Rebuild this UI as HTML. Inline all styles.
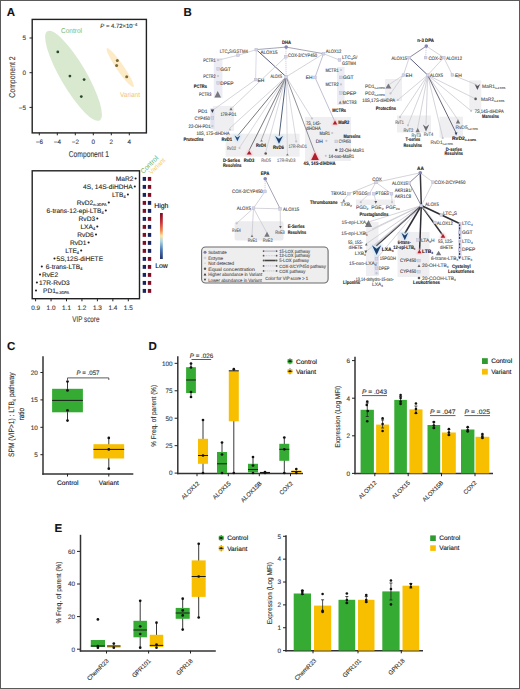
<!DOCTYPE html><html><head><meta charset="utf-8"><style>html,body{margin:0;padding:0;background:#fff;overflow:hidden}svg{display:block}text{font-family:"Liberation Sans",sans-serif;text-rendering:geometricPrecision}.b text{stroke:#444;stroke-width:0.1px}.o text{stroke:#333;stroke-width:0.12px}</style></head><body><svg width="520" height="689" viewBox="0 0 520 689"><defs><filter id="gl" x="-50%" y="-50%" width="200%" height="200%"><feGaussianBlur stdDeviation="0.9"/></filter></defs><rect x="0" y="0" width="520" height="689" fill="#fff"/><g class="o">
<text x="6.80" y="16.20" font-size="11.5" font-weight="bold" fill="#111">A</text>
<ellipse cx="73.5" cy="75.8" rx="51.7" ry="12.8" transform="rotate(59.6 73.5 75.8)" fill="#d8e9d0"/>
<ellipse cx="120.2" cy="67.6" rx="23.5" ry="3.6" transform="rotate(55.6 120.2 67.6)" fill="#fcebc6"/>
<circle cx="57.80" cy="51.90" r="1.4" fill="#2a4a2a"/>
<circle cx="69.90" cy="76.10" r="1.4" fill="#2a4a2a"/>
<circle cx="84.10" cy="79.60" r="1.4" fill="#2a4a2a"/>
<circle cx="81.30" cy="96.60" r="1.4" fill="#2a4a2a"/>
<circle cx="117.30" cy="60.60" r="1.5" fill="#7d6a35"/>
<circle cx="116.60" cy="65.40" r="1.5" fill="#7d6a35"/>
<circle cx="126.70" cy="76.80" r="1.5" fill="#7d6a35"/>
<rect x="32.2" y="19.4" width="114.2" height="113.5" fill="none" stroke="#222" stroke-width="1.4"/>
<line x1="39.30" y1="132.70" x2="39.30" y2="135.30" stroke="#222" stroke-width="1"/>
<text x="39.30" y="144.30" font-size="6.3" text-anchor="middle" fill="#444">−6</text>
<line x1="57.30" y1="132.70" x2="57.30" y2="135.30" stroke="#222" stroke-width="1"/>
<text x="57.30" y="144.30" font-size="6.3" text-anchor="middle" fill="#444">−4</text>
<line x1="75.30" y1="132.70" x2="75.30" y2="135.30" stroke="#222" stroke-width="1"/>
<text x="75.30" y="144.30" font-size="6.3" text-anchor="middle" fill="#444">−2</text>
<line x1="93.30" y1="132.70" x2="93.30" y2="135.30" stroke="#222" stroke-width="1"/>
<text x="93.30" y="144.30" font-size="6.3" text-anchor="middle" fill="#444">0</text>
<line x1="111.30" y1="132.70" x2="111.30" y2="135.30" stroke="#222" stroke-width="1"/>
<text x="111.30" y="144.30" font-size="6.3" text-anchor="middle" fill="#444">2</text>
<line x1="129.30" y1="132.70" x2="129.30" y2="135.30" stroke="#222" stroke-width="1"/>
<text x="129.30" y="144.30" font-size="6.3" text-anchor="middle" fill="#444">4</text>
<line x1="29.50" y1="38.00" x2="32.50" y2="38.00" stroke="#222" stroke-width="1"/>
<text x="26.00" y="40.30" font-size="6.3" text-anchor="end" fill="#444">5</text>
<line x1="29.50" y1="72.70" x2="32.50" y2="72.70" stroke="#222" stroke-width="1"/>
<text x="26.00" y="75.00" font-size="6.3" text-anchor="end" fill="#444">0</text>
<line x1="29.50" y1="107.40" x2="32.50" y2="107.40" stroke="#222" stroke-width="1"/>
<text x="26.00" y="109.70" font-size="6.3" text-anchor="end" fill="#444">−5</text>
<text x="88.90" y="156.80" font-size="8.5" text-anchor="middle" fill="#444" textLength="40.40" lengthAdjust="spacingAndGlyphs">Component 1</text>
<text x="15.10" y="77.00" font-size="8.5" text-anchor="middle" fill="#444" textLength="41.30" lengthAdjust="spacingAndGlyphs" transform="rotate(-90 15.10 77.00)">Component 2</text>
<text x="61.00" y="32.50" font-size="7" fill="#79b86c" style="stroke:none" textLength="21.00" lengthAdjust="spacingAndGlyphs">Control</text>
<text x="120.00" y="96.50" font-size="7" fill="#f3c46e" style="stroke:none" textLength="20.00" lengthAdjust="spacingAndGlyphs">Variant</text>
<text x="100.3" y="28.1" font-size="6" fill="#333" textLength="37" lengthAdjust="spacingAndGlyphs"><tspan font-style="italic">P</tspan> = 4.72×10<tspan font-size="4.2" dy="-2.6">−4</tspan></text>
<rect x="32.2" y="170.8" width="107.3" height="127.9" fill="none" stroke="#222" stroke-width="1.4"/>
<line x1="35.60" y1="298.50" x2="35.60" y2="301.30" stroke="#222" stroke-width="1"/>
<text x="35.60" y="310.30" font-size="6.4" text-anchor="middle" fill="#444">0.9</text>
<line x1="51.05" y1="298.50" x2="51.05" y2="301.30" stroke="#222" stroke-width="1"/>
<text x="51.05" y="310.30" font-size="6.4" text-anchor="middle" fill="#444">1.0</text>
<line x1="66.50" y1="298.50" x2="66.50" y2="301.30" stroke="#222" stroke-width="1"/>
<text x="66.50" y="310.30" font-size="6.4" text-anchor="middle" fill="#444">1.1</text>
<line x1="81.95" y1="298.50" x2="81.95" y2="301.30" stroke="#222" stroke-width="1"/>
<text x="81.95" y="310.30" font-size="6.4" text-anchor="middle" fill="#444">1.2</text>
<line x1="97.40" y1="298.50" x2="97.40" y2="301.30" stroke="#222" stroke-width="1"/>
<text x="97.40" y="310.30" font-size="6.4" text-anchor="middle" fill="#444">1.3</text>
<line x1="112.85" y1="298.50" x2="112.85" y2="301.30" stroke="#222" stroke-width="1"/>
<text x="112.85" y="310.30" font-size="6.4" text-anchor="middle" fill="#444">1.4</text>
<line x1="128.30" y1="298.50" x2="128.30" y2="301.30" stroke="#222" stroke-width="1"/>
<text x="128.30" y="310.30" font-size="6.4" text-anchor="middle" fill="#444">1.5</text>
<text x="85.90" y="322.40" font-size="8.4" text-anchor="middle" fill="#444" textLength="27.10" lengthAdjust="spacingAndGlyphs">VIP score</text>
<circle cx="135.60" cy="178.50" r="1.05" fill="#222"/>
<text x="133.40" y="180.60" font-size="6.6" text-anchor="end" fill="#222">MaR2</text>
<rect x="142.70" y="176.95" width="3.35" height="3.90" fill="#18245f"/>
<rect x="147.85" y="176.95" width="3.35" height="3.90" fill="#7f0d24"/>
<circle cx="134.80" cy="186.50" r="1.05" fill="#222"/>
<text x="132.60" y="188.60" font-size="6.6" text-anchor="end" fill="#222">4S, 14S-diHDHA</text>
<rect x="142.70" y="184.95" width="3.35" height="3.90" fill="#18245f"/>
<rect x="147.85" y="184.95" width="3.35" height="3.90" fill="#7f0d24"/>
<circle cx="127.90" cy="194.50" r="1.05" fill="#222"/>
<text x="125.70" y="196.60" font-size="6.6" text-anchor="end" fill="#222">LTB<tspan font-size="3.9" dy="1.3">4</tspan></text>
<rect x="142.70" y="192.95" width="3.35" height="3.90" fill="#18245f"/>
<rect x="147.85" y="192.95" width="3.35" height="3.90" fill="#7f0d24"/>
<circle cx="108.80" cy="202.50" r="1.05" fill="#222"/>
<text x="106.60" y="204.60" font-size="6.6" text-anchor="end" fill="#222">RvD2<tspan font-size="3.9" dy="1.3">n-3DPA</tspan></text>
<rect x="142.70" y="200.95" width="3.35" height="3.90" fill="#7f0d24"/>
<rect x="147.85" y="200.95" width="3.35" height="3.90" fill="#18245f"/>
<circle cx="105.80" cy="210.50" r="1.05" fill="#222"/>
<text x="103.60" y="212.60" font-size="6.6" text-anchor="end" fill="#222">6-trans-12-epi-LTB<tspan font-size="3.9" dy="1.3">4</tspan></text>
<rect x="142.70" y="208.95" width="3.35" height="3.90" fill="#7f0d24"/>
<rect x="147.85" y="208.95" width="3.35" height="3.90" fill="#18245f"/>
<circle cx="97.30" cy="218.50" r="1.05" fill="#222"/>
<text x="95.10" y="220.60" font-size="6.6" text-anchor="end" fill="#222">RvD3</text>
<rect x="142.70" y="216.95" width="3.35" height="3.90" fill="#18245f"/>
<rect x="147.85" y="216.95" width="3.35" height="3.90" fill="#7f0d24"/>
<circle cx="97.30" cy="226.50" r="1.05" fill="#222"/>
<text x="95.10" y="228.60" font-size="6.6" text-anchor="end" fill="#222">LXA<tspan font-size="3.9" dy="1.3">4</tspan></text>
<rect x="142.70" y="224.95" width="3.35" height="3.90" fill="#7f0d24"/>
<rect x="147.85" y="224.95" width="3.35" height="3.90" fill="#18245f"/>
<circle cx="96.00" cy="234.50" r="1.05" fill="#222"/>
<text x="93.80" y="236.60" font-size="6.6" text-anchor="end" fill="#222">RvD6</text>
<rect x="142.70" y="232.95" width="3.35" height="3.90" fill="#7f0d24"/>
<rect x="147.85" y="232.95" width="3.35" height="3.90" fill="#18245f"/>
<circle cx="88.60" cy="242.50" r="1.05" fill="#222"/>
<text x="86.40" y="244.60" font-size="6.6" text-anchor="end" fill="#222">RvD1</text>
<rect x="142.70" y="240.95" width="3.35" height="3.90" fill="#7f0d24"/>
<rect x="147.85" y="240.95" width="3.35" height="3.90" fill="#18245f"/>
<circle cx="81.20" cy="250.50" r="1.05" fill="#222"/>
<text x="79.00" y="252.60" font-size="6.6" text-anchor="end" fill="#222">LTE<tspan font-size="3.9" dy="1.3">4</tspan></text>
<rect x="142.70" y="248.95" width="3.35" height="3.90" fill="#7f0d24"/>
<rect x="147.85" y="248.95" width="3.35" height="3.90" fill="#18245f"/>
<circle cx="54.50" cy="258.50" r="1.05" fill="#222"/>
<text x="56.50" y="260.60" font-size="6.6" fill="#222">5S,12S-diHETE</text>
<rect x="142.70" y="256.95" width="3.35" height="3.90" fill="#18245f"/>
<rect x="147.85" y="256.95" width="3.35" height="3.90" fill="#7f0d24"/>
<circle cx="41.80" cy="266.50" r="1.05" fill="#222"/>
<text x="45.80" y="268.60" font-size="6.6" fill="#222">6-trans-LTB<tspan font-size="3.9" dy="1.3">4</tspan></text>
<rect x="142.70" y="264.95" width="3.35" height="3.90" fill="#18245f"/>
<rect x="147.85" y="264.95" width="3.35" height="3.90" fill="#7f0d24"/>
<circle cx="40.00" cy="274.50" r="1.05" fill="#222"/>
<text x="42.00" y="276.60" font-size="6.6" fill="#222">RvE2</text>
<rect x="142.70" y="272.95" width="3.35" height="3.90" fill="#18245f"/>
<rect x="147.85" y="272.95" width="3.35" height="3.90" fill="#7f0d24"/>
<circle cx="36.90" cy="282.50" r="1.05" fill="#222"/>
<text x="38.90" y="284.60" font-size="6.6" fill="#222">17R-RvD3</text>
<rect x="142.70" y="280.95" width="3.35" height="3.90" fill="#18245f"/>
<rect x="147.85" y="280.95" width="3.35" height="3.90" fill="#7f0d24"/>
<circle cx="36.00" cy="290.50" r="1.05" fill="#222"/>
<text x="43.00" y="292.60" font-size="6.6" fill="#222">PD1<tspan font-size="3.9" dy="1.3">n-3DPA</tspan></text>
<rect x="142.70" y="288.95" width="3.35" height="3.90" fill="#18245f"/>
<rect x="147.85" y="288.95" width="3.35" height="3.90" fill="#7f0d24"/>
<text x="143.20" y="174.00" font-size="6.8" fill="#6cb25e" style="stroke:none" textLength="22.00" lengthAdjust="spacingAndGlyphs" transform="rotate(-45 143.20 174.00)">Control</text>
<text x="151.60" y="174.80" font-size="6.8" fill="#f6cd72" style="stroke:none" textLength="20.00" lengthAdjust="spacingAndGlyphs" transform="rotate(-45 151.60 174.80)">Variant</text>
<defs><linearGradient id="cb" x1="0" y1="0" x2="0" y2="1"><stop offset="0" stop-color="#7b0d25"/><stop offset="0.2" stop-color="#c8323a"/><stop offset="0.38" stop-color="#f08a4f"/><stop offset="0.5" stop-color="#fbe6a6"/><stop offset="0.62" stop-color="#a8d3e4"/><stop offset="0.8" stop-color="#4a78b4"/><stop offset="1" stop-color="#23336e"/></linearGradient></defs>
<rect x="160.00" y="213.00" width="2.80" height="46.00" fill="url(#cb)"/>
<text x="154.20" y="208.40" font-size="6.9">High</text>
<text x="155.20" y="268.00" font-size="6.9">Low</text>
</g>
<g class="b">
<text x="183.60" y="16.10" font-size="11.5" font-weight="bold" fill="#111">B</text>
<rect x="213.80" y="58.00" width="8.60" height="40.00" fill="#ececf4"/>
<rect x="337.00" y="67.00" width="7.50" height="38.00" fill="#ececf4"/>
<rect x="213.00" y="106.00" width="21.00" height="25.00" fill="#efeff1"/>
<rect x="210.30" y="108.00" width="4.20" height="21.00" fill="#e2e2f0"/>
<rect x="225.60" y="133.70" width="74.00" height="23.00" fill="#efeff1"/>
<rect x="305.00" y="117.00" width="46.00" height="44.00" fill="#efeff1"/>
<rect x="385.00" y="79.00" width="17.00" height="22.00" fill="#efeff1"/>
<rect x="397.00" y="115.50" width="34.00" height="17.00" fill="#efeff1"/>
<rect x="469.30" y="80.40" width="12.00" height="30.00" fill="#efeff1"/>
<rect x="439.50" y="116.60" width="23.50" height="21.00" fill="#efeff1"/>
<rect x="234.6" y="221.2" width="49" height="19.3" rx="2.5" fill="#ececee"/>
<rect x="356.00" y="199.50" width="39.00" height="5.50" fill="#efeff1"/>
<rect x="366.00" y="222.00" width="12.50" height="54.00" fill="#efeff1"/>
<rect x="374.30" y="255.00" width="4.60" height="20.00" fill="#e2e2f0"/>
<rect x="397.50" y="232.00" width="32.00" height="45.00" fill="#efeff1"/>
<rect x="458.00" y="222.00" width="3.80" height="37.00" fill="#e2e2f0"/>
<line x1="286.20" y1="47.10" x2="256.30" y2="49.60" stroke="#9a9aae" stroke-width="0.9"/>
<line x1="286.20" y1="47.10" x2="323.50" y2="53.70" stroke="#9a9aae" stroke-width="0.9"/>
<line x1="286.20" y1="47.10" x2="285.80" y2="56.70" stroke="#c8c8e8" stroke-width="0.9" stroke-dasharray="1.2 0.8"/>
<line x1="285.80" y1="56.70" x2="286.20" y2="76.80" stroke="#c8c8e8" stroke-width="0.9" stroke-dasharray="1.2 0.8"/>
<line x1="256.30" y1="49.60" x2="286.20" y2="76.80" stroke="#5e5e7a" stroke-width="1.0"/>
<line x1="323.50" y1="53.70" x2="286.20" y2="76.80" stroke="#c9c9d2" stroke-width="0.8"/>
<line x1="256.30" y1="49.60" x2="238.00" y2="55.30" stroke="#c9c9d2" stroke-width="0.8"/>
<line x1="238.00" y1="55.30" x2="218.00" y2="60.20" stroke="#c9c9d2" stroke-width="0.8"/>
<line x1="256.30" y1="49.60" x2="255.60" y2="79.60" stroke="#d0d0e4" stroke-width="0.8"/>
<line x1="255.60" y1="79.60" x2="212.40" y2="110.50" stroke="#c9c9d2" stroke-width="0.8"/>
<line x1="285.80" y1="56.70" x2="231.00" y2="108.80" stroke="#c9c9d2" stroke-width="0.8"/>
<line x1="286.20" y1="76.80" x2="229.50" y2="128.50" stroke="#c9c9d2" stroke-width="0.8"/>
<line x1="323.50" y1="53.70" x2="339.50" y2="60.00" stroke="#c9c9d2" stroke-width="0.8"/>
<line x1="323.50" y1="53.70" x2="315.00" y2="77.40" stroke="#b0b0c8" stroke-width="0.8"/>
<line x1="315.00" y1="77.40" x2="334.60" y2="121.00" stroke="#b0b0c8" stroke-width="0.8"/>
<line x1="286.20" y1="76.80" x2="312.00" y2="118.50" stroke="#c9c9d2" stroke-width="0.8"/>
<line x1="286.20" y1="76.80" x2="237.50" y2="136.00" stroke="#55555c" stroke-width="0.8"/>
<line x1="286.20" y1="76.80" x2="239.50" y2="147.50" stroke="#c9c9d2" stroke-width="0.7"/>
<line x1="286.20" y1="76.80" x2="248.80" y2="151.00" stroke="#55555c" stroke-width="0.8"/>
<line x1="286.20" y1="76.80" x2="261.50" y2="139.50" stroke="#8a8a96" stroke-width="0.7"/>
<line x1="286.20" y1="76.80" x2="265.60" y2="152.50" stroke="#c9c9d2" stroke-width="0.7"/>
<line x1="286.20" y1="76.80" x2="279.20" y2="136.00" stroke="#3d4f72" stroke-width="0.9"/>
<line x1="286.20" y1="76.80" x2="296.20" y2="141.00" stroke="#c9c9d2" stroke-width="0.7"/>
<line x1="286.20" y1="76.80" x2="287.40" y2="153.00" stroke="#c9c9d2" stroke-width="0.7"/>
<line x1="286.20" y1="76.80" x2="314.60" y2="152.00" stroke="#74747e" stroke-width="0.8"/>
<circle cx="286.20" cy="47.10" r="1.8" fill="#8585b5"/>
<text x="286.50" y="44.05" font-size="5.0" fill="#111" text-anchor="middle" font-weight="bold" textLength="9.00" lengthAdjust="spacingAndGlyphs">DHA</text>
<rect x="254.90" y="48.20" width="2.80" height="2.80" fill="#d4d4e6" stroke="#b4b4cc" stroke-width="0.4"/>
<text x="260.60" y="53.55" font-size="4.9" fill="#383838" textLength="17.00" lengthAdjust="spacingAndGlyphs">ALOX15</text>
<rect x="284.40" y="55.30" width="2.80" height="2.80" fill="#d4d4e6" stroke="#b4b4cc" stroke-width="0.4"/>
<text x="288.00" y="57.15" font-size="4.9" fill="#383838" textLength="29.00" lengthAdjust="spacingAndGlyphs">COX-2/CYP450</text>
<rect x="322.10" y="52.30" width="2.80" height="2.80" fill="#d4d4e6" stroke="#b4b4cc" stroke-width="0.4"/>
<text x="325.80" y="53.05" font-size="4.9" fill="#383838" textLength="15.50" lengthAdjust="spacingAndGlyphs">ALOX12</text>
<rect x="236.60" y="53.90" width="2.80" height="2.80" fill="#d4d4e6" stroke="#b4b4cc" stroke-width="0.4"/>
<text x="219.8" y="52.6" font-size="4.9" fill="#555" textLength="28" lengthAdjust="spacingAndGlyphs">LTC<tspan font-size="3.2" dy="1">4</tspan><tspan dy="-1">S/GSTM4</tspan></text>
<rect x="284.80" y="75.40" width="2.80" height="2.80" fill="#d4d4e6" stroke="#b4b4cc" stroke-width="0.4"/>
<text x="282.00" y="78.25" font-size="4.9" fill="#383838" text-anchor="end" textLength="11.60" lengthAdjust="spacingAndGlyphs">ALOX5</text>
<rect x="254.20" y="78.20" width="2.80" height="2.80" fill="#d4d4e6" stroke="#b4b4cc" stroke-width="0.4"/>
<text x="257.60" y="81.95" font-size="4.9" fill="#383838">EH</text>
<rect x="313.60" y="76.00" width="2.80" height="2.80" fill="#d4d4e6" stroke="#b4b4cc" stroke-width="0.4"/>
<text x="312.50" y="79.15" font-size="4.9" fill="#383838" text-anchor="end">EH</text>
<circle cx="218.00" cy="60.20" r="1.1" fill="#c4c4cc"/>
<text x="215.60" y="61.95" font-size="4.9" fill="#383838" text-anchor="end" textLength="12.40" lengthAdjust="spacingAndGlyphs">PCTR1</text>
<rect x="216.80" y="67.40" width="2.80" height="2.80" fill="#d4d4e6" stroke="#b4b4cc" stroke-width="0.4"/>
<text x="220.20" y="70.55" font-size="4.9" fill="#383838">GGT</text>
<circle cx="218.00" cy="76.00" r="1.1" fill="#c4c4cc"/>
<text x="215.60" y="77.75" font-size="4.9" fill="#383838" text-anchor="end" textLength="12.40" lengthAdjust="spacingAndGlyphs">PCTR2</text>
<rect x="216.80" y="81.60" width="2.80" height="2.80" fill="#d4d4e6" stroke="#b4b4cc" stroke-width="0.4"/>
<text x="220.20" y="84.75" font-size="4.9" fill="#383838">DPEP</text>
<polygon points="214.40,97.40 221.00,97.40 217.70,91.00" fill="#77777f"/>
<text x="211.40" y="96.05" font-size="4.9" fill="#383838" text-anchor="end" textLength="12.40" lengthAdjust="spacingAndGlyphs">PCTR3</text>
<text x="193.80" y="88.25" font-size="5.0" fill="#111" font-weight="bold" textLength="13.20" lengthAdjust="spacingAndGlyphs">PCTRs</text>
<rect x="338.10" y="58.60" width="2.80" height="2.80" fill="#d4d4e6" stroke="#b4b4cc" stroke-width="0.4"/>
<text x="342" y="59.4" font-size="4.9" fill="#555">LTC<tspan font-size="3.2" dy="1">4</tspan><tspan dy="-1">S/</tspan></text>
<text x="342.00" y="64.65" font-size="4.9" fill="#383838" textLength="14.00" lengthAdjust="spacingAndGlyphs">GSTM4</text>
<circle cx="341.00" cy="70.00" r="1.1" fill="#c4c4cc"/>
<text x="338.60" y="71.75" font-size="4.9" fill="#383838" text-anchor="end" textLength="13.20" lengthAdjust="spacingAndGlyphs">MCTR1</text>
<rect x="339.60" y="76.00" width="2.80" height="2.80" fill="#d4d4e6" stroke="#b4b4cc" stroke-width="0.4"/>
<text x="343.00" y="79.15" font-size="4.9" fill="#383838">GGT</text>
<circle cx="341.00" cy="84.40" r="1.1" fill="#c4c4cc"/>
<text x="338.60" y="86.15" font-size="4.9" fill="#383838" text-anchor="end" textLength="13.20" lengthAdjust="spacingAndGlyphs">MCTR2</text>
<rect x="339.60" y="91.50" width="2.80" height="2.80" fill="#d4d4e6" stroke="#b4b4cc" stroke-width="0.4"/>
<text x="343.00" y="94.65" font-size="4.9" fill="#383838">DPEP</text>
<polygon points="338.60,103.70 341.80,103.70 340.20,100.70" fill="#888"/>
<text x="342.60" y="103.95" font-size="4.9" fill="#383838" textLength="14.00" lengthAdjust="spacingAndGlyphs">MCTR3</text>
<text x="332.30" y="111.95" font-size="5.0" fill="#111" font-weight="bold" textLength="13.70" lengthAdjust="spacingAndGlyphs">MCTRs</text>
<polygon points="210.70,109.50 214.10,109.50 212.40,112.90" fill="#3a3a44"/>
<text x="207.50" y="112.95" font-size="4.9" fill="#383838" text-anchor="end">PD1</text>
<polygon points="229.40,110.30 232.60,110.30 231.00,107.30" fill="#777"/>
<text x="220.40" y="115.95" font-size="4.9" fill="#383838" textLength="16.00" lengthAdjust="spacingAndGlyphs">17R-PD1</text>
<rect x="211.00" y="116.60" width="2.80" height="2.80" fill="#d4d4e6" stroke="#b4b4cc" stroke-width="0.4"/>
<text x="209.80" y="119.95" font-size="4.9" fill="#383838" text-anchor="end" textLength="15.40" lengthAdjust="spacingAndGlyphs">CYP450</text>
<circle cx="212.40" cy="126.20" r="1.1" fill="#c4c4cc"/>
<text x="210.60" y="128.15" font-size="4.9" fill="#383838" text-anchor="end" textLength="22.00" lengthAdjust="spacingAndGlyphs">22-OH-PD1</text>
<circle cx="230.00" cy="129.50" r="1.1" fill="#c4c4cc"/>
<text x="196.50" y="135.25" font-size="4.9" fill="#383838" textLength="33.00" lengthAdjust="spacingAndGlyphs">10S, 17S-diHDHA</text>
<text x="183.50" y="140.55" font-size="5.0" fill="#111" font-weight="bold" textLength="20.00" lengthAdjust="spacingAndGlyphs">Protectins</text>
<polygon points="234.60,135.60 237.40,137.56 240.20,135.60 237.40,141.20" fill="#cfe6f6" stroke="#cfe6f6" stroke-width="2.6" stroke-linejoin="round" filter="url(#gl)"/>
<polygon points="234.60,135.60 237.40,137.56 240.20,135.60 237.40,141.20" fill="#264a7a"/>
<text x="221.50" y="141.35" font-size="5.0" fill="#111" font-weight="bold" textLength="10.60" lengthAdjust="spacingAndGlyphs">RvD1</text>
<circle cx="239.50" cy="148.00" r="1.1" fill="#c4c4cc"/>
<text x="227.00" y="150.15" font-size="4.9" fill="#777" textLength="9.00" lengthAdjust="spacingAndGlyphs">RvD2</text>
<polygon points="246.70,154.50 251.70,154.50 249.20,150.70" fill="#f7c9cf" stroke="#f7c9cf" stroke-width="2.2" stroke-linejoin="round" filter="url(#gl)"/>
<polygon points="246.70,154.50 251.70,154.50 249.20,150.70" fill="#b01e2c"/>
<text x="243.80" y="162.15" font-size="5.0" fill="#111" font-weight="bold" textLength="10.60" lengthAdjust="spacingAndGlyphs">RvD3</text>
<polygon points="260.20,141.60 262.80,141.60 261.50,139.20" fill="#777"/>
<text x="256.00" y="146.75" font-size="5.0" fill="#111" font-weight="bold" textLength="10.00" lengthAdjust="spacingAndGlyphs">RvD4</text>
<circle cx="265.70" cy="153.50" r="1.3" fill="#5a5a5a"/>
<text x="261.20" y="162.15" font-size="4.9" fill="#777" textLength="9.60" lengthAdjust="spacingAndGlyphs">RvD5</text>
<polygon points="275.10,136.00 279.00,138.73 282.90,136.00 279.00,143.80" fill="#cfe6f6" stroke="#cfe6f6" stroke-width="2.6" stroke-linejoin="round" filter="url(#gl)"/>
<polygon points="275.10,136.00 279.00,138.73 282.90,136.00 279.00,143.80" fill="#1d3f6e"/>
<text x="273.00" y="149.05" font-size="5.0" fill="#111" font-weight="bold" textLength="10.80" lengthAdjust="spacingAndGlyphs">RvD6</text>
<circle cx="296.20" cy="141.40" r="1.1" fill="#c4c4cc"/>
<text x="288.40" y="148.05" font-size="4.9" fill="#777" textLength="18.60" lengthAdjust="spacingAndGlyphs">17R-RvD1</text>
<polygon points="286.10,155.60 288.70,155.60 287.40,153.20" fill="#777"/>
<text x="277.00" y="162.15" font-size="4.9" fill="#777" textLength="18.40" lengthAdjust="spacingAndGlyphs">17R-RvD3</text>
<text x="223.00" y="162.15" font-size="5.0" fill="#111" font-weight="bold" textLength="17.00" lengthAdjust="spacingAndGlyphs">D-Series</text>
<text x="223.00" y="167.05" font-size="5.0" fill="#111" font-weight="bold" textLength="18.50" lengthAdjust="spacingAndGlyphs">Resolvins</text>
<circle cx="312.00" cy="118.50" r="1.1" fill="#c4c4cc"/>
<text x="306.20" y="124.75" font-size="4.9" fill="#383838" textLength="14.50" lengthAdjust="spacingAndGlyphs">7S, 14S-</text>
<text x="306.20" y="129.65" font-size="4.9" fill="#383838" textLength="14.50" lengthAdjust="spacingAndGlyphs">diHDHA</text>
<polygon points="332.70,124.50 337.30,124.50 335.00,120.50" fill="#f7c9cf" stroke="#f7c9cf" stroke-width="2.2" stroke-linejoin="round" filter="url(#gl)"/>
<polygon points="332.70,124.50 337.30,124.50 335.00,120.50" fill="#b01e2c"/>
<text x="338.30" y="124.35" font-size="5.0" fill="#111" font-weight="bold" textLength="11.00" lengthAdjust="spacingAndGlyphs">MaR2</text>
<circle cx="332.20" cy="133.00" r="1.1" fill="#c4c4cc"/>
<text x="330.00" y="134.75" font-size="4.9" fill="#383838" text-anchor="end" textLength="10.50" lengthAdjust="spacingAndGlyphs">MaR1</text>
<text x="343.50" y="137.75" font-size="5.0" fill="#111" font-weight="bold" textLength="17.00" lengthAdjust="spacingAndGlyphs">Maresins</text>
<circle cx="326.40" cy="140.80" r="1.1" fill="#c4c4cc"/>
<text x="322.90" y="142.55" font-size="4.9" fill="#383838" text-anchor="end">DH</text>
<rect x="334.90" y="140.00" width="2.80" height="2.80" fill="#d4d4e6" stroke="#b4b4cc" stroke-width="0.4"/>
<text x="338.70" y="143.15" font-size="4.9" fill="#383838" textLength="12.00" lengthAdjust="spacingAndGlyphs">CYP450</text>
<circle cx="336.30" cy="150.00" r="1.3" fill="#5a5a5a"/>
<text x="339.00" y="151.75" font-size="4.9" fill="#383838" textLength="25.00" lengthAdjust="spacingAndGlyphs">22-OH-MaR1</text>
<circle cx="325.80" cy="155.80" r="1.1" fill="#c4c4cc"/>
<text x="328.40" y="157.55" font-size="4.9" fill="#383838" textLength="25.80" lengthAdjust="spacingAndGlyphs">14-oxo-MaR1</text>
<polygon points="311.20,160.10 318.80,160.10 315.00,152.30" fill="#f7c9cf" stroke="#f7c9cf" stroke-width="2.2" stroke-linejoin="round" filter="url(#gl)"/>
<polygon points="311.20,160.10 318.80,160.10 315.00,152.30" fill="#b01e2c"/>
<text x="303.60" y="164.75" font-size="5.0" fill="#111" font-weight="bold" textLength="32.00" lengthAdjust="spacingAndGlyphs">4S, 14S-diHDHA</text>
<line x1="426.30" y1="46.10" x2="409.20" y2="57.60" stroke="#7a7a90" stroke-width="0.9"/>
<line x1="426.30" y1="46.10" x2="425.60" y2="57.60" stroke="#c8c8e8" stroke-width="0.9" stroke-dasharray="1.2 0.8"/>
<line x1="426.30" y1="46.10" x2="443.80" y2="57.60" stroke="#c9c9d2" stroke-width="0.8"/>
<line x1="409.20" y1="57.60" x2="427.70" y2="75.10" stroke="#5e5e7a" stroke-width="1.0"/>
<line x1="409.20" y1="57.60" x2="403.40" y2="75.20" stroke="#c9c9d2" stroke-width="0.8"/>
<line x1="403.40" y1="75.20" x2="388.40" y2="85.00" stroke="#c9c9d2" stroke-width="0.8"/>
<line x1="403.40" y1="75.20" x2="391.00" y2="93.00" stroke="#c9c9d2" stroke-width="0.8"/>
<line x1="443.80" y1="57.60" x2="427.70" y2="75.10" stroke="#c9c9d2" stroke-width="0.8"/>
<line x1="443.80" y1="57.60" x2="452.40" y2="75.00" stroke="#c9c9d2" stroke-width="0.8"/>
<line x1="452.40" y1="75.00" x2="477.40" y2="85.00" stroke="#c9c9d2" stroke-width="0.8"/>
<line x1="427.70" y1="75.10" x2="397.80" y2="100.00" stroke="#c9c9d2" stroke-width="0.8"/>
<line x1="427.70" y1="75.10" x2="399.80" y2="117.20" stroke="#c9c9d2" stroke-width="0.8"/>
<line x1="427.70" y1="75.10" x2="408.00" y2="125.00" stroke="#c9c9d2" stroke-width="0.8"/>
<line x1="427.70" y1="75.10" x2="417.70" y2="128.00" stroke="#c9c9d2" stroke-width="0.8"/>
<line x1="427.70" y1="75.10" x2="426.00" y2="124.60" stroke="#c9c9d2" stroke-width="0.8"/>
<line x1="427.70" y1="75.10" x2="442.70" y2="137.50" stroke="#c9c9d2" stroke-width="0.8"/>
<line x1="427.70" y1="75.10" x2="458.00" y2="120.00" stroke="#c9c9d2" stroke-width="0.8"/>
<line x1="427.70" y1="75.10" x2="471.00" y2="110.80" stroke="#c9c9d2" stroke-width="0.8"/>
<line x1="427.70" y1="75.10" x2="475.60" y2="98.90" stroke="#c9c9d2" stroke-width="0.8"/>
<line x1="427.70" y1="75.10" x2="456.10" y2="133.00" stroke="#555566" stroke-width="0.9"/>
<circle cx="426.30" cy="46.10" r="1.8" fill="#8585b5"/>
<text x="425.60" y="42.35" font-size="5.0" fill="#111" text-anchor="middle" font-weight="bold" textLength="16.70" lengthAdjust="spacingAndGlyphs">n-3 DPA</text>
<rect x="407.80" y="56.20" width="2.80" height="2.80" fill="#d4d4e6" stroke="#b4b4cc" stroke-width="0.4"/>
<text x="407.00" y="59.55" font-size="4.9" fill="#383838" text-anchor="end" textLength="15.60" lengthAdjust="spacingAndGlyphs">ALOX15</text>
<rect x="424.20" y="56.20" width="2.80" height="2.80" fill="#d4d4e6" stroke="#b4b4cc" stroke-width="0.4"/>
<text x="428.40" y="59.55" font-size="4.9" fill="#383838" textLength="13.60" lengthAdjust="spacingAndGlyphs">COX-2</text>
<rect x="442.40" y="56.20" width="2.80" height="2.80" fill="#d4d4e6" stroke="#b4b4cc" stroke-width="0.4"/>
<text x="446.30" y="59.55" font-size="4.9" fill="#383838" textLength="15.70" lengthAdjust="spacingAndGlyphs">ALOX12</text>
<rect x="402.00" y="73.80" width="2.80" height="2.80" fill="#d4d4e6" stroke="#b4b4cc" stroke-width="0.4"/>
<text x="405.50" y="77.35" font-size="4.9" fill="#383838">EH</text>
<rect x="426.30" y="73.70" width="2.80" height="2.80" fill="#d4d4e6" stroke="#b4b4cc" stroke-width="0.4"/>
<text x="430.00" y="76.55" font-size="4.9" fill="#383838" textLength="13.00" lengthAdjust="spacingAndGlyphs">ALOX5</text>
<rect x="451.00" y="73.60" width="2.80" height="2.80" fill="#d4d4e6" stroke="#b4b4cc" stroke-width="0.4"/>
<text x="455.00" y="76.55" font-size="4.9" fill="#383838">EH</text>
<polygon points="385.40,88.50 391.40,88.50 388.40,83.50" fill="#77777f"/>
<text x="365" y="87.6" font-size="4.9" fill="#555">PD1<tspan font-size="2.8" dy="1.2">n-3 DPA</tspan></text>
<circle cx="390.50" cy="93.40" r="1.1" fill="#c4c4cc"/>
<text x="365" y="94.6" font-size="4.9" fill="#555">PD2<tspan font-size="2.8" dy="1.2">n-3 DPA</tspan></text>
<circle cx="397.80" cy="100.00" r="1.1" fill="#c4c4cc"/>
<text x="362.30" y="101.65" font-size="4.9" fill="#383838" textLength="32.80" lengthAdjust="spacingAndGlyphs">10S,17S-diHDPA</text>
<text x="375.80" y="110.25" font-size="5.0" fill="#111" font-weight="bold" textLength="20.20" lengthAdjust="spacingAndGlyphs">Protectins</text>
<circle cx="400.00" cy="117.20" r="1.1" fill="#c4c4cc"/>
<text x="395.20" y="124.15" font-size="4.9" fill="#666" textLength="8.60" lengthAdjust="spacingAndGlyphs">RvT1</text>
<circle cx="408.00" cy="125.30" r="1.1" fill="#c4c4cc"/>
<text x="403.50" y="131.95" font-size="4.9" fill="#666" textLength="9.80" lengthAdjust="spacingAndGlyphs">RvT2</text>
<polygon points="415.50,132.20 419.90,132.20 417.70,127.80" fill="#777"/>
<text x="411.60" y="136.75" font-size="4.9" fill="#666" textLength="9.40" lengthAdjust="spacingAndGlyphs">RvT3</text>
<polygon points="422.80,124.40 426.00,126.85 429.20,124.40 426.00,131.40" fill="#6a6a74"/>
<text x="423.70" y="136.25" font-size="4.9" fill="#666" textLength="9.50" lengthAdjust="spacingAndGlyphs">RvT4</text>
<text x="405.50" y="141.45" font-size="5.0" fill="#111" font-weight="bold" textLength="14.80" lengthAdjust="spacingAndGlyphs">T-series</text>
<text x="403.50" y="147.15" font-size="5.0" fill="#111" font-weight="bold" textLength="18.50" lengthAdjust="spacingAndGlyphs">Resolvins</text>
<polygon points="474.60,84.00 477.40,86.10 480.20,84.00 477.40,90.00" fill="#55555e"/>
<text x="482" y="87.5" font-size="4.9" fill="#555">MaR1<tspan font-size="2.8" dy="1.2">n-3 DPA</tspan></text>
<circle cx="475.60" cy="98.90" r="1.3" fill="#5a5a5a"/>
<text x="481" y="100.6" font-size="4.9" fill="#555">MaR2<tspan font-size="2.8" dy="1.2">n-3 DPA</tspan></text>
<circle cx="471.10" cy="110.80" r="1.1" fill="#c4c4cc"/>
<text x="474.70" y="112.55" font-size="4.9" fill="#383838" textLength="29.00" lengthAdjust="spacingAndGlyphs">7S,14S-diHDPA</text>
<text x="482.00" y="118.35" font-size="5.0" fill="#111" font-weight="bold" textLength="17.00" lengthAdjust="spacingAndGlyphs">Maresins</text>
<polygon points="455.80,123.50 460.20,123.50 458.00,119.30" fill="#777"/>
<text x="455.4" y="129" font-size="4.9" fill="#666">RvD5<tspan font-size="2.8" dy="1.2">n-3 DPA</tspan></text>
<polygon points="454.70,132.50 457.50,132.50 456.10,135.50" fill="#2d3b66"/>
<text x="452" y="139.9" font-size="5" font-weight="bold" fill="#111">RvD2<tspan font-size="3" dy="1.2">n-3 DPA</tspan></text>
<circle cx="442.70" cy="138.00" r="1.1" fill="#c4c4cc"/>
<text x="430.4" y="143.6" font-size="4.9" fill="#666">RvD1<tspan font-size="2.8" dy="1.2">n-3 DPA</tspan></text>
<text x="445.80" y="150.55" font-size="5.0" fill="#111" font-weight="bold" textLength="16.20" lengthAdjust="spacingAndGlyphs">D-series</text>
<text x="444.50" y="155.45" font-size="5.0" fill="#111" font-weight="bold" textLength="18.50" lengthAdjust="spacingAndGlyphs">Resolvins</text>
<line x1="265.20" y1="178.80" x2="280.20" y2="208.80" stroke="#9a9aae" stroke-width="0.9"/>
<line x1="265.20" y1="178.80" x2="265.00" y2="191.50" stroke="#c8c8e8" stroke-width="0.9" stroke-dasharray="1.2 0.8"/>
<line x1="265.00" y1="191.50" x2="253.50" y2="208.20" stroke="#c9c9d2" stroke-width="0.8"/>
<line x1="253.50" y1="208.20" x2="280.20" y2="208.80" stroke="#c9c9d2" stroke-width="0.8"/>
<line x1="253.50" y1="208.20" x2="236.70" y2="223.30" stroke="#c9c9d2" stroke-width="0.8"/>
<line x1="253.50" y1="208.20" x2="252.00" y2="235.50" stroke="#c9c9d2" stroke-width="0.8"/>
<line x1="253.50" y1="208.20" x2="267.00" y2="233.00" stroke="#c9c9d2" stroke-width="0.8"/>
<line x1="280.20" y1="208.80" x2="280.40" y2="226.00" stroke="#c9c9d2" stroke-width="0.8"/>
<circle cx="265.20" cy="178.80" r="1.8" fill="#8585b5"/>
<text x="265.00" y="175.45" font-size="5.0" fill="#111" text-anchor="middle" font-weight="bold" textLength="8.60" lengthAdjust="spacingAndGlyphs">EPA</text>
<rect x="263.60" y="190.10" width="2.80" height="2.80" fill="#d4d4e6" stroke="#b4b4cc" stroke-width="0.4"/>
<text x="262.80" y="193.25" font-size="4.9" fill="#383838" text-anchor="end" textLength="30.80" lengthAdjust="spacingAndGlyphs">COX-2/CYP450</text>
<rect x="252.10" y="206.80" width="2.80" height="2.80" fill="#d4d4e6" stroke="#b4b4cc" stroke-width="0.4"/>
<text x="251.00" y="209.75" font-size="4.9" fill="#383838" text-anchor="end" textLength="14.30" lengthAdjust="spacingAndGlyphs">ALOX5</text>
<rect x="278.80" y="207.40" width="2.80" height="2.80" fill="#d4d4e6" stroke="#b4b4cc" stroke-width="0.4"/>
<text x="283.00" y="210.75" font-size="4.9" fill="#383838" textLength="16.20" lengthAdjust="spacingAndGlyphs">ALOX15</text>
<circle cx="236.70" cy="223.30" r="1.1" fill="#c4c4cc"/>
<text x="236.40" y="231.75" font-size="4.9" fill="#666" text-anchor="middle" textLength="8.60" lengthAdjust="spacingAndGlyphs">RvE4</text>
<polygon points="250.70,237.00 253.30,237.00 252.00,234.60" fill="#777"/>
<text x="252.50" y="241.75" font-size="4.9" fill="#666" text-anchor="middle" textLength="9.60" lengthAdjust="spacingAndGlyphs">RvE1</text>
<polygon points="264.30,236.80 269.70,236.80 267.00,231.80" fill="#77777f"/>
<text x="267.70" y="241.75" font-size="4.9" fill="#666" text-anchor="middle" textLength="10.00" lengthAdjust="spacingAndGlyphs">RvE2</text>
<polygon points="279.10,225.90 281.70,225.90 280.40,228.50" fill="#555"/>
<text x="280.00" y="234.05" font-size="4.9" fill="#666" text-anchor="middle" textLength="9.60" lengthAdjust="spacingAndGlyphs">RvE3</text>
<text x="287.70" y="228.25" font-size="5.0" fill="#111" font-weight="bold" textLength="17.00" lengthAdjust="spacingAndGlyphs">E-Series</text>
<text x="287.70" y="233.75" font-size="5.0" fill="#111" font-weight="bold" textLength="18.50" lengthAdjust="spacingAndGlyphs">Resolvins</text>
<rect x="201.6" y="247" width="126.5" height="36" rx="4" ry="4" fill="#eeeeef" stroke="#6a6a6a" stroke-width="1.1"/>
<circle cx="205.00" cy="252.20" r="1.5" fill="#7a7aa4"/>
<rect x="203.80" y="256.70" width="2.40" height="2.40" fill="#d0d0e2"/>
<circle cx="205.00" cy="263.30" r="0.7" fill="#c8c8c8"/>
<circle cx="205.00" cy="268.70" r="1.2" fill="#555"/>
<polygon points="203.60,275.50 206.40,275.50 205.00,273.10" fill="#4a2228"/>
<polygon points="203.80,278.70 206.20,278.70 205.00,280.90" fill="#333"/>
<text x="208.20" y="254.15" font-size="4.6" fill="#555" textLength="18.50" lengthAdjust="spacingAndGlyphs">Substrate</text>
<text x="208.20" y="259.85" font-size="4.6" fill="#555" textLength="15.00" lengthAdjust="spacingAndGlyphs">Enzyme</text>
<text x="208.20" y="265.25" font-size="4.6" fill="#555" textLength="26.00" lengthAdjust="spacingAndGlyphs">Not detected</text>
<text x="208.20" y="270.65" font-size="4.6" fill="#555" textLength="46.80" lengthAdjust="spacingAndGlyphs">Equal concentration</text>
<text x="208.20" y="276.25" font-size="4.6" fill="#555" textLength="54.00" lengthAdjust="spacingAndGlyphs">Higher abundance in Variant</text>
<text x="208.20" y="281.75" font-size="4.6" fill="#555" textLength="53.40" lengthAdjust="spacingAndGlyphs">Lower abundance in Variant</text>
<circle cx="263.60" cy="251.10" r="0.9" fill="#555"/>
<circle cx="276.60" cy="251.10" r="0.9" fill="#555"/>
<line x1="264.50" y1="251.10" x2="275.70" y2="251.10" stroke="#9a9ab8" stroke-width="0.8"/>
<text x="279.30" y="252.85" font-size="4.6" fill="#555" textLength="30.80" lengthAdjust="spacingAndGlyphs">15-LOX pathway</text>
<circle cx="263.60" cy="255.70" r="0.9" fill="#555"/>
<circle cx="276.60" cy="255.70" r="0.9" fill="#555"/>
<line x1="264.50" y1="255.70" x2="275.70" y2="255.70" stroke="#b8b8c8" stroke-width="0.8" stroke-dasharray="0.8 0.8"/>
<text x="279.30" y="257.45" font-size="4.6" fill="#555" textLength="30.80" lengthAdjust="spacingAndGlyphs">12-LOX pathway</text>
<circle cx="263.60" cy="260.50" r="0.9" fill="#555"/>
<circle cx="276.60" cy="260.50" r="0.9" fill="#555"/>
<line x1="264.50" y1="260.50" x2="275.70" y2="260.50" stroke="#444" stroke-width="1.6"/>
<text x="279.30" y="262.25" font-size="4.6" fill="#555" textLength="29.60" lengthAdjust="spacingAndGlyphs">5-LOX pathway</text>
<circle cx="263.60" cy="265.90" r="0.9" fill="#555"/>
<circle cx="276.60" cy="265.90" r="0.9" fill="#555"/>
<line x1="264.50" y1="265.90" x2="275.70" y2="265.90" stroke="#b8b8d8" stroke-width="0.8" stroke-dasharray="1 0.8"/>
<text x="279.30" y="267.65" font-size="4.6" fill="#555" textLength="46.50" lengthAdjust="spacingAndGlyphs">COX-2/CYP450 pathway</text>
<circle cx="263.60" cy="270.90" r="0.9" fill="#555"/>
<circle cx="276.60" cy="270.90" r="0.9" fill="#555"/>
<line x1="264.50" y1="270.90" x2="275.70" y2="270.90" stroke="#c0c0c0" stroke-width="0.8" stroke-dasharray="1.5 0.6"/>
<text x="279.30" y="272.65" font-size="4.6" fill="#555" textLength="26.00" lengthAdjust="spacingAndGlyphs">COX pathway</text>
<text x="265.20" y="279.75" font-size="4.6" fill="#555" textLength="43.00" lengthAdjust="spacingAndGlyphs">Color for VIP score &gt; 1</text>
<line x1="420.30" y1="172.80" x2="375.90" y2="182.40" stroke="#c9c9d2" stroke-width="0.8"/>
<line x1="420.30" y1="172.80" x2="409.20" y2="182.90" stroke="#7a7a90" stroke-width="0.9"/>
<line x1="420.30" y1="172.80" x2="433.00" y2="182.20" stroke="#c9c9d2" stroke-width="0.8"/>
<line x1="409.20" y1="182.90" x2="421.30" y2="205.60" stroke="#7a7a90" stroke-width="0.9"/>
<line x1="433.00" y1="182.20" x2="421.30" y2="205.60" stroke="#c9c9d2" stroke-width="0.8"/>
<line x1="375.90" y1="182.40" x2="348.80" y2="193.70" stroke="#c9c9d2" stroke-width="0.8"/>
<line x1="375.90" y1="182.40" x2="369.40" y2="193.70" stroke="#c9c9d2" stroke-width="0.8"/>
<line x1="375.90" y1="182.40" x2="391.50" y2="193.70" stroke="#c9c9d2" stroke-width="0.8"/>
<line x1="348.80" y1="193.70" x2="343.80" y2="200.00" stroke="#c9c9d2" stroke-width="0.7"/>
<line x1="369.40" y1="193.70" x2="360.80" y2="201.50" stroke="#c9c9d2" stroke-width="0.7"/>
<line x1="373.80" y1="193.70" x2="375.80" y2="201.00" stroke="#c9c9d2" stroke-width="0.7"/>
<line x1="391.50" y1="193.70" x2="392.00" y2="201.50" stroke="#c9c9d2" stroke-width="0.7"/>
<line x1="421.30" y1="205.60" x2="368.50" y2="222.00" stroke="#c9c9d2" stroke-width="0.8"/>
<line x1="421.30" y1="205.60" x2="365.80" y2="233.10" stroke="#c9c9d2" stroke-width="0.8"/>
<line x1="421.30" y1="205.60" x2="366.30" y2="243.80" stroke="#c9c9d2" stroke-width="0.8"/>
<line x1="421.30" y1="205.60" x2="365.80" y2="251.80" stroke="#c9c9d2" stroke-width="0.8"/>
<line x1="421.30" y1="205.60" x2="376.50" y2="258.70" stroke="#c9c9d2" stroke-width="0.8"/>
<line x1="421.30" y1="205.60" x2="372.00" y2="229.00" stroke="#c9c9d2" stroke-width="0.8"/>
<line x1="420.30" y1="172.80" x2="421.30" y2="205.60" stroke="#36363c" stroke-width="1.5"/>
<line x1="421.30" y1="205.60" x2="376.30" y2="246.00" stroke="#3a3a40" stroke-width="1.2"/>
<line x1="420.80" y1="206.80" x2="374.40" y2="246.00" stroke="#9a9aa4" stroke-width="0.7"/>
<line x1="421.30" y1="205.60" x2="404.80" y2="233.50" stroke="#2e2e34" stroke-width="1.6"/>
<line x1="421.30" y1="205.60" x2="419.60" y2="250.00" stroke="#2e2e34" stroke-width="1.5"/>
<line x1="421.30" y1="205.60" x2="442.60" y2="235.00" stroke="#2e2e34" stroke-width="1.5"/>
<line x1="421.30" y1="205.60" x2="459.60" y2="223.40" stroke="#2e2e34" stroke-width="1.6"/>
<line x1="459.60" y1="224.00" x2="459.60" y2="256.00" stroke="#2b3f6a" stroke-width="1.3" stroke-dasharray="2.2 1"/>
<line x1="421.30" y1="205.60" x2="435.00" y2="222.50" stroke="#c9c9d2" stroke-width="0.8"/>
<circle cx="420.30" cy="172.80" r="1.8" fill="#8585b5"/>
<text x="420.40" y="170.25" font-size="5.0" fill="#111" text-anchor="middle" font-weight="bold" textLength="6.80" lengthAdjust="spacingAndGlyphs">AA</text>
<rect x="374.50" y="181.00" width="2.80" height="2.80" fill="#d4d4e6" stroke="#b4b4cc" stroke-width="0.4"/>
<text x="377.00" y="180.55" font-size="4.9" fill="#383838" text-anchor="middle" textLength="9.60" lengthAdjust="spacingAndGlyphs">COX</text>
<rect x="407.80" y="181.50" width="2.80" height="2.80" fill="#d4d4e6" stroke="#b4b4cc" stroke-width="0.4"/>
<text x="407.60" y="184.65" font-size="4.9" fill="#383838" text-anchor="end" textLength="15.50" lengthAdjust="spacingAndGlyphs">ALOX15</text>
<rect x="431.60" y="180.80" width="2.80" height="2.80" fill="#d4d4e6" stroke="#b4b4cc" stroke-width="0.4"/>
<text x="434.60" y="184.05" font-size="4.9" fill="#383838" textLength="30.80" lengthAdjust="spacingAndGlyphs">COX-2/CYP450</text>
<text x="394.80" y="192.35" font-size="4.9" fill="#383838" textLength="16.80" lengthAdjust="spacingAndGlyphs">AKR1B1/</text>
<text x="394.80" y="197.65" font-size="4.9" fill="#383838" textLength="16.20" lengthAdjust="spacingAndGlyphs">AKR1C8</text>
<rect x="347.40" y="192.30" width="2.80" height="2.80" fill="#d4d4e6" stroke="#b4b4cc" stroke-width="0.4"/>
<text x="331.00" y="195.45" font-size="4.9" fill="#383838" textLength="15.30" lengthAdjust="spacingAndGlyphs">TBXAS1</text>
<rect x="368.00" y="192.30" width="2.80" height="2.80" fill="#d4d4e6" stroke="#b4b4cc" stroke-width="0.4"/>
<text x="353.00" y="195.45" font-size="4.9" fill="#383838" textLength="14.50" lengthAdjust="spacingAndGlyphs">PTGDS</text>
<rect x="372.40" y="192.30" width="2.80" height="2.80" fill="#d4d4e6" stroke="#b4b4cc" stroke-width="0.4"/>
<text x="375.60" y="195.45" font-size="4.9" fill="#383838" textLength="13.40" lengthAdjust="spacingAndGlyphs">PTGES</text>
<rect x="390.10" y="192.30" width="2.80" height="2.80" fill="#d4d4e6" stroke="#b4b4cc" stroke-width="0.4"/>
<polygon points="342.30,201.80 345.30,201.80 343.80,199.00" fill="#777"/>
<text x="340.6" y="205.8" font-size="4.9" fill="#555">TXB<tspan font-size="3.2" dy="1">2</tspan></text>
<text x="310.00" y="204.05" font-size="5.0" fill="#111" font-weight="bold" textLength="27.50" lengthAdjust="spacingAndGlyphs">Thromboxane</text>
<circle cx="360.80" cy="202.20" r="1.1" fill="#c4c4cc"/>
<circle cx="392.00" cy="202.20" r="1.1" fill="#c4c4cc"/>
<polygon points="374.40,201.00 377.20,201.00 375.80,203.80" fill="#555"/>
<text x="356" y="208.5" font-size="4.9" fill="#555">PGD<tspan font-size="3.2" dy="1">2</tspan></text>
<text x="371.3" y="208.5" font-size="4.9" fill="#555">PGE<tspan font-size="3.2" dy="1">2</tspan></text>
<text x="385.8" y="208.5" font-size="4.9" fill="#555">PGF<tspan font-size="3.2" dy="1">2α</tspan></text>
<text x="359.60" y="215.95" font-size="5.0" fill="#111" font-weight="bold" textLength="28.90" lengthAdjust="spacingAndGlyphs">Prostaglandins</text>
<rect x="419.90" y="204.20" width="2.80" height="2.80" fill="#d4d4e6" stroke="#b4b4cc" stroke-width="0.4"/>
<text x="425.30" y="206.05" font-size="4.9" fill="#383838" textLength="13.40" lengthAdjust="spacingAndGlyphs">ALOX5</text>
<polygon points="364.90,227.10 372.10,227.10 368.50,220.10" fill="#77777f"/>
<text x="341.5" y="224.1" font-size="4.9" fill="#555">15-epi-LXA<tspan font-size="3.2" dy="1">4</tspan></text>
<circle cx="365.80" cy="233.10" r="1.1" fill="#c4c4cc"/>
<text x="341.3" y="234.7" font-size="4.9" fill="#555">15-epi-LXB<tspan font-size="3.2" dy="1">4</tspan></text>
<polygon points="365.00,245.50 367.60,245.50 366.30,242.90" fill="#666"/>
<text x="348.00" y="244.35" font-size="4.9" fill="#383838" textLength="14.70" lengthAdjust="spacingAndGlyphs">5S, 15S-</text>
<text x="348.80" y="249.35" font-size="4.9" fill="#383838" textLength="13.70" lengthAdjust="spacingAndGlyphs">diHETE</text>
<polygon points="364.40,250.60 367.20,250.60 365.80,253.40" fill="#555"/>
<text x="354.8" y="254.5" font-size="4.9" fill="#555">LXB<tspan font-size="3.2" dy="1">4</tspan></text>
<polygon points="372.00,245.30 376.60,248.73 381.20,245.30 376.60,255.10" fill="#cfe6f6" stroke="#cfe6f6" stroke-width="2.6" stroke-linejoin="round" filter="url(#gl)"/>
<polygon points="372.00,245.30 376.60,248.73 381.20,245.30 376.60,255.10" fill="#1d3f6e"/>
<text x="381.7" y="251.2" font-size="5" font-weight="bold" fill="#111">LXA<tspan font-size="3.2" dy="1">4</tspan></text>
<rect x="375.10" y="257.30" width="2.80" height="2.80" fill="#d4d4e6" stroke="#b4b4cc" stroke-width="0.4"/>
<text x="379.80" y="260.45" font-size="4.9" fill="#383838" textLength="16.20" lengthAdjust="spacingAndGlyphs">15PGDH</text>
<circle cx="376.50" cy="263.20" r="1.1" fill="#c4c4cc"/>
<text x="349" y="264.6" font-size="4.9" fill="#555">15-oxo-LXA<tspan font-size="3.2" dy="1">4</tspan></text>
<rect x="375.10" y="266.90" width="2.80" height="2.80" fill="#d4d4e6" stroke="#b4b4cc" stroke-width="0.4"/>
<text x="378.80" y="270.05" font-size="4.9" fill="#383838" textLength="10.60" lengthAdjust="spacingAndGlyphs">DPEP</text>
<circle cx="376.50" cy="273.20" r="1.1" fill="#c4c4cc"/>
<text x="355.80" y="280.95" font-size="4.9" fill="#383838" textLength="38.00" lengthAdjust="spacingAndGlyphs">13,14-dehydro-15-oxo-</text>
<text x="372" y="286" font-size="4.9" fill="#555">LXA<tspan font-size="3.2" dy="1">4</tspan></text>
<text x="343.00" y="284.35" font-size="5.0" fill="#111" font-weight="bold" textLength="17.00" lengthAdjust="spacingAndGlyphs">Lipoxins</text>
<polygon points="401.40,232.80 404.80,235.39 408.20,232.80 404.80,240.20" fill="#cfe6f6" stroke="#cfe6f6" stroke-width="2.6" stroke-linejoin="round" filter="url(#gl)"/>
<polygon points="401.40,232.80 404.80,235.39 408.20,232.80 404.80,240.20" fill="#1d3f6e"/>
<text x="397.70" y="243.85" font-size="5.0" fill="#111" font-weight="bold" textLength="12.90" lengthAdjust="spacingAndGlyphs">6-trans-</text>
<text x="393.3" y="248.9" font-size="5" font-weight="bold" fill="#1a1a1a" textLength="22" lengthAdjust="spacingAndGlyphs">12-epi-LTB<tspan font-size="3.2" dy="1">4</tspan></text>
<rect x="416.60" y="238.60" width="2.80" height="2.80" fill="#d4d4e6" stroke="#b4b4cc" stroke-width="0.4"/>
<text x="421" y="241.6" font-size="4.9" fill="#555">LTA<tspan font-size="3.2" dy="1">4</tspan><tspan dy="-1">H</tspan></text>
<polygon points="417.40,253.20 421.40,253.20 419.40,249.60" fill="#f7c9cf" stroke="#f7c9cf" stroke-width="2.2" stroke-linejoin="round" filter="url(#gl)"/>
<polygon points="417.40,253.20 421.40,253.20 419.40,249.60" fill="#b01e2c"/>
<text x="422" y="253.3" font-size="5" font-weight="bold" fill="#111">LTB<tspan font-size="3.2" dy="1">4</tspan></text>
<polygon points="435.90,255.30 441.30,255.30 438.60,250.70" fill="#77777f"/>
<text x="431" y="259.6" font-size="4.9" fill="#555">6-trans-LTB<tspan font-size="3.2" dy="1">4</tspan></text>
<polygon points="440.70,237.80 445.30,237.80 443.00,233.80" fill="#f7c9cf" stroke="#f7c9cf" stroke-width="2.2" stroke-linejoin="round" filter="url(#gl)"/>
<polygon points="440.70,237.80 445.30,237.80 443.00,233.80" fill="#b01e2c"/>
<text x="438.00" y="242.75" font-size="4.9" fill="#383838" textLength="15.00" lengthAdjust="spacingAndGlyphs">5S, 12S-</text>
<text x="440.00" y="248.75" font-size="4.9" fill="#383838" textLength="13.00" lengthAdjust="spacingAndGlyphs">diHETE</text>
<rect x="417.40" y="259.20" width="2.80" height="2.80" fill="#d4d4e6" stroke="#b4b4cc" stroke-width="0.4"/>
<text x="400.00" y="262.35" font-size="4.9" fill="#383838" textLength="16.30" lengthAdjust="spacingAndGlyphs">CYP450</text>
<polygon points="417.50,267.00 420.50,267.00 419.00,264.20" fill="#666"/>
<text x="422" y="267.3" font-size="4.9" fill="#555">20-OH-LTB<tspan font-size="3.2" dy="1">4</tspan></text>
<rect x="417.40" y="270.30" width="2.80" height="2.80" fill="#d4d4e6" stroke="#b4b4cc" stroke-width="0.4"/>
<text x="400.00" y="273.45" font-size="4.9" fill="#383838" textLength="16.30" lengthAdjust="spacingAndGlyphs">CYP450</text>
<circle cx="419.00" cy="278.00" r="1.3" fill="#5a5a5a"/>
<text x="422" y="279.7" font-size="4.9" fill="#555">20-COOH-LTB<tspan font-size="3.2" dy="1">4</tspan></text>
<text x="413.00" y="284.35" font-size="5.0" fill="#111" font-weight="bold" textLength="27.00" lengthAdjust="spacingAndGlyphs">Leukotrienes</text>
<rect x="439.90" y="213.60" width="2.80" height="2.80" fill="#d4d4e6" stroke="#b4b4cc" stroke-width="0.4"/>
<text x="443.00" y="215.35" font-size="4.9" fill="#383838">LTC<tspan font-size="3.2" dy="1">4</tspan><tspan dy="-1">S</tspan></text>
<rect x="433.60" y="221.10" width="2.80" height="2.80" fill="#d4d4e6" stroke="#b4b4cc" stroke-width="0.4"/>
<text x="436.80" y="224.75" font-size="4.9" fill="#383838" textLength="16.00" lengthAdjust="spacingAndGlyphs">ALOX12</text>
<circle cx="459.60" cy="223.40" r="1.1" fill="#c4c4cc"/>
<text x="462" y="225.2" font-size="4.9" fill="#555">LTC<tspan font-size="3.2" dy="1">4</tspan></text>
<rect x="458.20" y="231.00" width="2.80" height="2.80" fill="#d4d4e6" stroke="#b4b4cc" stroke-width="0.4"/>
<text x="462.00" y="234.15" font-size="4.9" fill="#383838">GGT</text>
<circle cx="459.60" cy="241.00" r="1.1" fill="#c4c4cc"/>
<text x="462" y="242.7" font-size="4.9" fill="#555">LTD<tspan font-size="3.2" dy="1">4</tspan></text>
<rect x="458.20" y="248.20" width="2.80" height="2.80" fill="#d4d4e6" stroke="#b4b4cc" stroke-width="0.4"/>
<text x="462.00" y="251.35" font-size="4.9" fill="#383838">DPEP</text>
<polygon points="458.20,256.40 461.00,256.40 459.60,259.20" fill="#2b3f6a"/>
<text x="462" y="259.7" font-size="4.9" fill="#555">LTE<tspan font-size="3.2" dy="1">4</tspan></text>
<text x="452.00" y="267.95" font-size="5.0" fill="#111" font-weight="bold" textLength="18.60" lengthAdjust="spacingAndGlyphs">Cysteinyl</text>
<text x="448.00" y="273.35" font-size="5.0" fill="#111" font-weight="bold" textLength="26.00" lengthAdjust="spacingAndGlyphs">Leukotrienes</text>
</g>
<g class="o">
<text x="7.00" y="350.40" font-size="11.5" font-weight="bold" fill="#111">C</text>
<line x1="43.00" y1="356.30" x2="43.00" y2="474.70" stroke="#333" stroke-width="1.5"/>
<line x1="42.30" y1="474.00" x2="133.30" y2="474.00" stroke="#333" stroke-width="1.5"/>
<line x1="40.40" y1="372.50" x2="43.00" y2="372.50" stroke="#222" stroke-width="1"/>
<text x="37.80" y="374.80" font-size="6.4" text-anchor="end" fill="#444">20</text>
<line x1="40.40" y1="399.90" x2="43.00" y2="399.90" stroke="#222" stroke-width="1"/>
<text x="37.80" y="402.20" font-size="6.4" text-anchor="end" fill="#444">15</text>
<line x1="40.40" y1="427.30" x2="43.00" y2="427.30" stroke="#222" stroke-width="1"/>
<text x="37.80" y="429.60" font-size="6.4" text-anchor="end" fill="#444">10</text>
<line x1="40.40" y1="454.70" x2="43.00" y2="454.70" stroke="#222" stroke-width="1"/>
<text x="37.80" y="457.00" font-size="6.4" text-anchor="end" fill="#444">5</text>
<line x1="67.50" y1="473.80" x2="67.50" y2="476.50" stroke="#222" stroke-width="1"/>
<line x1="108.80" y1="473.80" x2="108.80" y2="476.50" stroke="#222" stroke-width="1"/>
<line x1="67.50" y1="381.50" x2="67.50" y2="420.60" stroke="#222" stroke-width="0.9"/>
<rect x="52.10" y="388.80" width="30.80" height="23.50" fill="#35ab33"/>
<line x1="52.10" y1="400.40" x2="82.90" y2="400.40" stroke="#1a1a1a" stroke-width="1"/>
<circle cx="67.50" cy="381.50" r="1.35" fill="#111"/>
<circle cx="67.50" cy="390.40" r="1.35" fill="#111"/>
<circle cx="67.50" cy="410.40" r="1.35" fill="#111"/>
<circle cx="67.50" cy="420.60" r="1.35" fill="#111"/>
<line x1="108.80" y1="437.90" x2="108.80" y2="468.70" stroke="#222" stroke-width="0.9"/>
<rect x="93.45" y="444.20" width="30.70" height="14.30" fill="#f8bf00"/>
<line x1="93.45" y1="449.40" x2="124.15" y2="449.40" stroke="#1a1a1a" stroke-width="1"/>
<circle cx="108.80" cy="437.90" r="1.35" fill="#111"/>
<circle cx="108.80" cy="449.40" r="1.35" fill="#111"/>
<circle cx="108.80" cy="468.70" r="1.35" fill="#111"/>
<polyline points="67.5,380 67.5,377.9 108.8,377.9 108.8,380" fill="none" stroke="#333" stroke-width="0.8"/>
<text x="76.5" y="375.4" font-size="6.4" fill="#333" textLength="23" lengthAdjust="spacingAndGlyphs"><tspan font-style="italic">P</tspan> = .057</text>
<text x="67.80" y="485.00" font-size="6.6" text-anchor="middle" textLength="21.50" lengthAdjust="spacingAndGlyphs">Control</text>
<text x="108.80" y="485.00" font-size="6.6" text-anchor="middle" textLength="20.00" lengthAdjust="spacingAndGlyphs">Variant</text>
<text x="14.4" y="414.7" font-size="7.8" fill="#333" text-anchor="middle" transform="rotate(-90 14.4 414.7)" textLength="84.4" lengthAdjust="spacingAndGlyphs">SPM (VIP&gt;1) : LTB<tspan font-size="5" dy="1.3">4</tspan><tspan dy="-1.3"> pathway</tspan></text>
<text x="24.30" y="414.20" font-size="7.8" text-anchor="middle" textLength="12.30" lengthAdjust="spacingAndGlyphs" transform="rotate(-90 24.30 414.20)">ratio</text>
<text x="148.60" y="350.40" font-size="11.5" font-weight="bold" fill="#111">D</text>
<line x1="177.80" y1="356.30" x2="177.80" y2="474.20" stroke="#333" stroke-width="1.5"/>
<line x1="177.10" y1="473.50" x2="303.00" y2="473.50" stroke="#333" stroke-width="1.5"/>
<line x1="174.60" y1="473.10" x2="177.80" y2="473.10" stroke="#222" stroke-width="1"/>
<text x="172.60" y="475.40" font-size="6.4" text-anchor="end" fill="#444">0</text>
<line x1="174.60" y1="445.66" x2="177.80" y2="445.66" stroke="#222" stroke-width="1"/>
<text x="172.60" y="447.96" font-size="6.4" text-anchor="end" fill="#444">25</text>
<line x1="174.60" y1="418.22" x2="177.80" y2="418.22" stroke="#222" stroke-width="1"/>
<text x="172.60" y="420.52" font-size="6.4" text-anchor="end" fill="#444">50</text>
<line x1="174.60" y1="390.78" x2="177.80" y2="390.78" stroke="#222" stroke-width="1"/>
<text x="172.60" y="393.08" font-size="6.4" text-anchor="end" fill="#444">75</text>
<line x1="174.60" y1="363.34" x2="177.80" y2="363.34" stroke="#222" stroke-width="1"/>
<text x="172.60" y="365.64" font-size="6.4" text-anchor="end" fill="#444">100</text>
<line x1="197.00" y1="473.40" x2="197.00" y2="476.20" stroke="#222" stroke-width="1"/>
<line x1="228.30" y1="473.40" x2="228.30" y2="476.20" stroke="#222" stroke-width="1"/>
<line x1="259.30" y1="473.40" x2="259.30" y2="476.20" stroke="#222" stroke-width="1"/>
<line x1="290.50" y1="473.40" x2="290.50" y2="476.20" stroke="#222" stroke-width="1"/>
<line x1="191.00" y1="363.50" x2="191.00" y2="397.00" stroke="#222" stroke-width="0.9"/>
<rect x="186.10" y="367.20" width="9.80" height="25.80" fill="#35ab33"/>
<line x1="186.10" y1="380.00" x2="195.90" y2="380.00" stroke="#1a1a1a" stroke-width="1"/>
<circle cx="191.00" cy="363.50" r="1.35" fill="#111"/>
<circle cx="191.00" cy="367.50" r="1.35" fill="#111"/>
<circle cx="191.00" cy="392.00" r="1.35" fill="#111"/>
<circle cx="191.00" cy="397.00" r="1.35" fill="#111"/>
<line x1="203.00" y1="420.00" x2="203.00" y2="473.00" stroke="#222" stroke-width="0.9"/>
<rect x="198.00" y="438.80" width="10.00" height="25.00" fill="#f8bf00"/>
<line x1="198.00" y1="455.50" x2="208.00" y2="455.50" stroke="#1a1a1a" stroke-width="1"/>
<circle cx="203.00" cy="420.00" r="1.35" fill="#111"/>
<circle cx="203.00" cy="455.50" r="1.35" fill="#111"/>
<circle cx="203.00" cy="473.00" r="1.35" fill="#111"/>
<line x1="222.00" y1="442.50" x2="222.00" y2="473.00" stroke="#222" stroke-width="0.9"/>
<rect x="217.00" y="452.00" width="10.00" height="21.30" fill="#35ab33"/>
<line x1="217.00" y1="463.80" x2="227.00" y2="463.80" stroke="#1a1a1a" stroke-width="1"/>
<circle cx="222.00" cy="442.50" r="1.35" fill="#111"/>
<circle cx="222.00" cy="454.50" r="1.35" fill="#111"/>
<circle cx="222.00" cy="473.00" r="1.35" fill="#111"/>
<line x1="233.80" y1="369.20" x2="233.80" y2="473.00" stroke="#222" stroke-width="0.9"/>
<rect x="228.80" y="370.80" width="10.00" height="50.50" fill="#f8bf00"/>
<line x1="228.80" y1="370.80" x2="238.80" y2="370.80" stroke="#1a1a1a" stroke-width="1"/>
<circle cx="233.80" cy="369.20" r="1.35" fill="#111"/>
<circle cx="233.80" cy="473.00" r="1.35" fill="#111"/>
<line x1="253.00" y1="457.00" x2="253.00" y2="473.00" stroke="#222" stroke-width="0.9"/>
<rect x="248.00" y="463.80" width="10.00" height="8.70" fill="#35ab33"/>
<line x1="248.00" y1="469.50" x2="258.00" y2="469.50" stroke="#1a1a1a" stroke-width="1"/>
<circle cx="253.00" cy="457.00" r="1.35" fill="#111"/>
<circle cx="253.00" cy="465.50" r="1.35" fill="#111"/>
<circle cx="253.00" cy="473.00" r="1.35" fill="#111"/>
<line x1="265.00" y1="471.50" x2="265.00" y2="473.00" stroke="#222" stroke-width="0.9"/>
<rect x="260.00" y="471.80" width="10.00" height="1.20" fill="#f8bf00"/>
<line x1="260.00" y1="472.50" x2="270.00" y2="472.50" stroke="#1a1a1a" stroke-width="1"/>
<circle cx="265.00" cy="472.00" r="1.35" fill="#111"/>
<circle cx="265.00" cy="473.00" r="1.35" fill="#111"/>
<line x1="284.30" y1="437.50" x2="284.30" y2="473.00" stroke="#222" stroke-width="0.9"/>
<rect x="279.30" y="443.80" width="10.00" height="17.00" fill="#35ab33"/>
<line x1="279.30" y1="449.30" x2="289.30" y2="449.30" stroke="#1a1a1a" stroke-width="1"/>
<circle cx="284.30" cy="437.50" r="1.35" fill="#111"/>
<circle cx="284.30" cy="449.30" r="1.35" fill="#111"/>
<circle cx="284.30" cy="473.00" r="1.35" fill="#111"/>
<line x1="296.30" y1="469.00" x2="296.30" y2="473.00" stroke="#222" stroke-width="0.9"/>
<rect x="291.30" y="470.50" width="10.00" height="2.50" fill="#f8bf00"/>
<line x1="291.30" y1="471.50" x2="301.30" y2="471.50" stroke="#1a1a1a" stroke-width="1"/>
<circle cx="296.30" cy="469.00" r="1.35" fill="#111"/>
<circle cx="296.30" cy="473.00" r="1.35" fill="#111"/>
<line x1="191.50" y1="359.50" x2="211.20" y2="359.50" stroke="#333" stroke-width="0.8"/>
<text x="189.7" y="357.6" font-size="6.4" fill="#333" textLength="23.7" lengthAdjust="spacingAndGlyphs"><tspan font-style="italic">P</tspan> = .026</text>
<line x1="290.00" y1="358.30" x2="290.00" y2="364.30" stroke="#222" stroke-width="0.8"/>
<rect x="287.60" y="359.10" width="4.80" height="4.40" fill="#35ab33"/>
<line x1="287.60" y1="361.30" x2="292.40" y2="361.30" stroke="#222" stroke-width="0.8"/>
<circle cx="290.00" cy="361.30" r="1.0" fill="#111"/>
<text x="296.00" y="363.50" font-size="6.5">Control</text>
<line x1="290.00" y1="368.30" x2="290.00" y2="374.30" stroke="#222" stroke-width="0.8"/>
<rect x="287.60" y="369.10" width="4.80" height="4.40" fill="#f8bf00"/>
<line x1="287.60" y1="371.30" x2="292.40" y2="371.30" stroke="#222" stroke-width="0.8"/>
<circle cx="290.00" cy="371.30" r="1.0" fill="#111"/>
<text x="296.00" y="373.50" font-size="6.5">Variant</text>
<text x="156.2" y="415.7" font-size="7" fill="#333" text-anchor="middle" transform="rotate(-90 156.2 415.7)" textLength="62" lengthAdjust="spacingAndGlyphs">% Freq. of parent (%)</text>
<text x="199.8" y="483.8" font-size="6.0" fill="#333" text-anchor="end" transform="rotate(-45 199.8 483.8)">ALOX12</text>
<text x="231.1" y="483.8" font-size="6.0" fill="#333" text-anchor="end" transform="rotate(-45 231.1 483.8)">ALOX15</text>
<text x="262.1" y="483.8" font-size="6.0" fill="#333" text-anchor="end" transform="rotate(-45 262.1 483.8)">ALOX15B</text>
<text x="293.3" y="483.8" font-size="6.0" fill="#333" text-anchor="end" transform="rotate(-45 293.3 483.8)">COX2</text>
<line x1="355.00" y1="356.80" x2="355.00" y2="474.30" stroke="#333" stroke-width="1.5"/>
<line x1="354.30" y1="473.60" x2="493.00" y2="473.60" stroke="#333" stroke-width="1.5"/>
<line x1="352.00" y1="473.40" x2="355.00" y2="473.40" stroke="#222" stroke-width="1"/>
<text x="350.00" y="475.70" font-size="6.4" text-anchor="end" fill="#444">0</text>
<line x1="352.00" y1="435.80" x2="355.00" y2="435.80" stroke="#222" stroke-width="1"/>
<text x="350.00" y="438.10" font-size="6.4" text-anchor="end" fill="#444">2</text>
<line x1="352.00" y1="398.20" x2="355.00" y2="398.20" stroke="#222" stroke-width="1"/>
<text x="350.00" y="400.50" font-size="6.4" text-anchor="end" fill="#444">4</text>
<line x1="352.00" y1="360.60" x2="355.00" y2="360.60" stroke="#222" stroke-width="1"/>
<text x="350.00" y="362.90" font-size="6.4" text-anchor="end" fill="#444">6</text>
<line x1="374.80" y1="473.50" x2="374.80" y2="476.20" stroke="#222" stroke-width="1"/>
<line x1="408.20" y1="473.50" x2="408.20" y2="476.20" stroke="#222" stroke-width="1"/>
<line x1="441.50" y1="473.50" x2="441.50" y2="476.20" stroke="#222" stroke-width="1"/>
<line x1="475.00" y1="473.50" x2="475.00" y2="476.20" stroke="#222" stroke-width="1"/>
<rect x="360.60" y="409.80" width="13.30" height="63.60" fill="#35ab33"/>
<line x1="367.25" y1="416.50" x2="367.25" y2="403.00" stroke="#222" stroke-width="0.8"/>
<line x1="365.75" y1="403.00" x2="368.75" y2="403.00" stroke="#222" stroke-width="0.8"/>
<line x1="365.75" y1="416.50" x2="368.75" y2="416.50" stroke="#222" stroke-width="0.8"/>
<circle cx="367.25" cy="401.60" r="1.3" fill="#111"/>
<circle cx="366.75" cy="405.00" r="1.3" fill="#111"/>
<circle cx="367.75" cy="411.00" r="1.3" fill="#111"/>
<circle cx="367.25" cy="421.20" r="1.3" fill="#111"/>
<rect x="376.10" y="424.60" width="13.00" height="48.80" fill="#f8bf00"/>
<line x1="382.60" y1="428.00" x2="382.60" y2="420.00" stroke="#222" stroke-width="0.8"/>
<line x1="381.10" y1="420.00" x2="384.10" y2="420.00" stroke="#222" stroke-width="0.8"/>
<line x1="381.10" y1="428.00" x2="384.10" y2="428.00" stroke="#222" stroke-width="0.8"/>
<circle cx="382.60" cy="418.40" r="1.3" fill="#111"/>
<circle cx="382.60" cy="424.00" r="1.3" fill="#111"/>
<circle cx="382.60" cy="431.00" r="1.3" fill="#111"/>
<rect x="394.30" y="399.90" width="12.60" height="73.50" fill="#35ab33"/>
<line x1="400.60" y1="403.00" x2="400.60" y2="396.50" stroke="#222" stroke-width="0.8"/>
<line x1="399.10" y1="396.50" x2="402.10" y2="396.50" stroke="#222" stroke-width="0.8"/>
<line x1="399.10" y1="403.00" x2="402.10" y2="403.00" stroke="#222" stroke-width="0.8"/>
<circle cx="400.60" cy="395.00" r="1.3" fill="#111"/>
<circle cx="400.60" cy="398.00" r="1.3" fill="#111"/>
<circle cx="400.60" cy="401.50" r="1.3" fill="#111"/>
<circle cx="400.60" cy="404.00" r="1.3" fill="#111"/>
<rect x="409.40" y="409.40" width="13.10" height="64.00" fill="#f8bf00"/>
<line x1="415.95" y1="413.50" x2="415.95" y2="406.00" stroke="#222" stroke-width="0.8"/>
<line x1="414.45" y1="406.00" x2="417.45" y2="406.00" stroke="#222" stroke-width="0.8"/>
<line x1="414.45" y1="413.50" x2="417.45" y2="413.50" stroke="#222" stroke-width="0.8"/>
<circle cx="415.95" cy="403.50" r="1.3" fill="#111"/>
<circle cx="415.95" cy="409.00" r="1.3" fill="#111"/>
<circle cx="415.95" cy="413.00" r="1.3" fill="#111"/>
<rect x="427.50" y="425.00" width="12.70" height="48.40" fill="#35ab33"/>
<line x1="433.85" y1="428.00" x2="433.85" y2="422.00" stroke="#222" stroke-width="0.8"/>
<line x1="432.35" y1="422.00" x2="435.35" y2="422.00" stroke="#222" stroke-width="0.8"/>
<line x1="432.35" y1="428.00" x2="435.35" y2="428.00" stroke="#222" stroke-width="0.8"/>
<circle cx="433.85" cy="422.00" r="1.3" fill="#111"/>
<circle cx="433.85" cy="425.50" r="1.3" fill="#111"/>
<circle cx="433.85" cy="428.00" r="1.3" fill="#111"/>
<rect x="442.00" y="432.50" width="13.80" height="40.90" fill="#f8bf00"/>
<line x1="448.90" y1="435.00" x2="448.90" y2="429.50" stroke="#222" stroke-width="0.8"/>
<line x1="447.40" y1="429.50" x2="450.40" y2="429.50" stroke="#222" stroke-width="0.8"/>
<line x1="447.40" y1="435.00" x2="450.40" y2="435.00" stroke="#222" stroke-width="0.8"/>
<circle cx="448.90" cy="429.00" r="1.3" fill="#111"/>
<circle cx="448.90" cy="432.50" r="1.3" fill="#111"/>
<circle cx="448.90" cy="435.00" r="1.3" fill="#111"/>
<rect x="461.00" y="429.50" width="13.40" height="43.90" fill="#35ab33"/>
<line x1="467.70" y1="431.50" x2="467.70" y2="427.50" stroke="#222" stroke-width="0.8"/>
<line x1="466.20" y1="427.50" x2="469.20" y2="427.50" stroke="#222" stroke-width="0.8"/>
<line x1="466.20" y1="431.50" x2="469.20" y2="431.50" stroke="#222" stroke-width="0.8"/>
<circle cx="467.70" cy="427.00" r="1.3" fill="#111"/>
<circle cx="467.70" cy="430.00" r="1.3" fill="#111"/>
<circle cx="467.70" cy="431.50" r="1.3" fill="#111"/>
<rect x="475.50" y="436.80" width="13.80" height="36.60" fill="#f8bf00"/>
<line x1="482.40" y1="438.00" x2="482.40" y2="435.00" stroke="#222" stroke-width="0.8"/>
<line x1="480.90" y1="435.00" x2="483.90" y2="435.00" stroke="#222" stroke-width="0.8"/>
<line x1="480.90" y1="438.00" x2="483.90" y2="438.00" stroke="#222" stroke-width="0.8"/>
<circle cx="482.40" cy="434.00" r="1.3" fill="#111"/>
<circle cx="482.40" cy="436.50" r="1.3" fill="#111"/>
<circle cx="482.40" cy="438.00" r="1.3" fill="#111"/>
<line x1="362.00" y1="395.60" x2="387.00" y2="395.60" stroke="#333" stroke-width="0.8"/>
<text x="362.0" y="393.6" font-size="6.4" fill="#333" textLength="25.0" lengthAdjust="spacingAndGlyphs"><tspan font-style="italic">P</tspan> = .043</text>
<line x1="430.00" y1="415.60" x2="455.50" y2="415.60" stroke="#333" stroke-width="0.8"/>
<text x="430.0" y="413.6" font-size="6.4" fill="#333" textLength="25.5" lengthAdjust="spacingAndGlyphs"><tspan font-style="italic">P</tspan> = .047</text>
<line x1="464.50" y1="415.60" x2="490.00" y2="415.60" stroke="#333" stroke-width="0.8"/>
<text x="464.5" y="413.6" font-size="6.4" fill="#333" textLength="25.5" lengthAdjust="spacingAndGlyphs"><tspan font-style="italic">P</tspan> = .025</text>
<rect x="482.00" y="358.20" width="5.80" height="5.80" fill="#2f9a2f"/>
<text x="491.20" y="363.40" font-size="6.5">Control</text>
<rect x="482.00" y="368.80" width="5.80" height="5.80" fill="#f8bf00"/>
<text x="491.20" y="374.00" font-size="6.5">Variant</text>
<text x="339.8" y="416.8" font-size="7" fill="#333" text-anchor="middle" transform="rotate(-90 339.8 416.8)" textLength="62" lengthAdjust="spacingAndGlyphs">Expression (Log MFI)</text>
<text x="377.0" y="483.2" font-size="6.0" fill="#333" text-anchor="end" transform="rotate(-45 377.0 483.2)">ALOX12</text>
<text x="410.4" y="483.2" font-size="6.0" fill="#333" text-anchor="end" transform="rotate(-45 410.4 483.2)">ALOX15</text>
<text x="443.7" y="483.2" font-size="6.0" fill="#333" text-anchor="end" transform="rotate(-45 443.7 483.2)">ALOX15B</text>
<text x="477.2" y="483.2" font-size="6.0" fill="#333" text-anchor="end" transform="rotate(-45 477.2 483.2)">COX2</text>
<text x="54.60" y="531.90" font-size="11.5" font-weight="bold" fill="#111">E</text>
<line x1="80.50" y1="534.80" x2="80.50" y2="651.60" stroke="#333" stroke-width="1.5"/>
<line x1="79.80" y1="650.90" x2="215.80" y2="650.90" stroke="#333" stroke-width="1.5"/>
<line x1="77.00" y1="649.20" x2="80.00" y2="649.20" stroke="#222" stroke-width="1"/>
<text x="75.00" y="651.50" font-size="6.4" text-anchor="end" fill="#444">0</text>
<line x1="77.00" y1="616.60" x2="80.00" y2="616.60" stroke="#222" stroke-width="1"/>
<text x="75.00" y="618.90" font-size="6.4" text-anchor="end" fill="#444">20</text>
<line x1="77.00" y1="584.00" x2="80.00" y2="584.00" stroke="#222" stroke-width="1"/>
<text x="75.00" y="586.30" font-size="6.4" text-anchor="end" fill="#444">40</text>
<line x1="77.00" y1="551.40" x2="80.00" y2="551.40" stroke="#222" stroke-width="1"/>
<text x="75.00" y="553.70" font-size="6.4" text-anchor="end" fill="#444">60</text>
<line x1="106.50" y1="650.80" x2="106.50" y2="653.50" stroke="#222" stroke-width="1"/>
<line x1="148.60" y1="650.80" x2="148.60" y2="653.50" stroke="#222" stroke-width="1"/>
<line x1="190.50" y1="650.80" x2="190.50" y2="653.50" stroke="#222" stroke-width="1"/>
<line x1="97.90" y1="640.00" x2="97.90" y2="647.70" stroke="#222" stroke-width="0.9"/>
<rect x="90.80" y="640.00" width="14.20" height="7.00" fill="#35ab33"/>
<line x1="90.80" y1="646.00" x2="105.00" y2="646.00" stroke="#1a1a1a" stroke-width="1"/>
<circle cx="97.90" cy="646.00" r="1.35" fill="#111"/>
<circle cx="97.90" cy="647.70" r="1.35" fill="#111"/>
<circle cx="97.90" cy="619.40" r="1.35" fill="#111"/>
<line x1="113.80" y1="643.50" x2="113.80" y2="647.70" stroke="#222" stroke-width="0.9"/>
<rect x="107.10" y="645.40" width="13.40" height="2.30" fill="#f8bf00"/>
<line x1="107.10" y1="646.00" x2="120.50" y2="646.00" stroke="#1a1a1a" stroke-width="1"/>
<circle cx="113.80" cy="643.50" r="1.35" fill="#111"/>
<circle cx="113.80" cy="647.70" r="1.35" fill="#111"/>
<line x1="140.20" y1="600.80" x2="140.20" y2="647.70" stroke="#222" stroke-width="0.9"/>
<rect x="133.45" y="620.80" width="13.50" height="16.50" fill="#35ab33"/>
<line x1="133.45" y1="630.00" x2="146.95" y2="630.00" stroke="#1a1a1a" stroke-width="1"/>
<circle cx="140.20" cy="600.80" r="1.35" fill="#111"/>
<circle cx="140.20" cy="626.30" r="1.35" fill="#111"/>
<circle cx="140.20" cy="634.00" r="1.35" fill="#111"/>
<circle cx="140.20" cy="647.70" r="1.35" fill="#111"/>
<line x1="156.50" y1="622.70" x2="156.50" y2="647.70" stroke="#222" stroke-width="0.9"/>
<rect x="149.75" y="634.80" width="13.50" height="12.20" fill="#f8bf00"/>
<line x1="149.75" y1="645.40" x2="163.25" y2="645.40" stroke="#1a1a1a" stroke-width="1"/>
<circle cx="156.50" cy="622.70" r="1.35" fill="#111"/>
<circle cx="156.50" cy="644.50" r="1.35" fill="#111"/>
<circle cx="156.50" cy="647.70" r="1.35" fill="#111"/>
<line x1="182.70" y1="598.70" x2="182.70" y2="629.60" stroke="#222" stroke-width="0.9"/>
<rect x="175.70" y="607.90" width="14.00" height="10.90" fill="#35ab33"/>
<line x1="175.70" y1="613.00" x2="189.70" y2="613.00" stroke="#1a1a1a" stroke-width="1"/>
<circle cx="182.70" cy="598.70" r="1.35" fill="#111"/>
<circle cx="182.70" cy="610.40" r="1.35" fill="#111"/>
<circle cx="182.70" cy="615.40" r="1.35" fill="#111"/>
<circle cx="182.70" cy="629.60" r="1.35" fill="#111"/>
<line x1="198.70" y1="543.80" x2="198.70" y2="617.50" stroke="#222" stroke-width="0.9"/>
<rect x="191.70" y="560.40" width="14.00" height="36.50" fill="#f8bf00"/>
<line x1="191.70" y1="576.50" x2="205.70" y2="576.50" stroke="#1a1a1a" stroke-width="1"/>
<circle cx="198.70" cy="543.80" r="1.35" fill="#111"/>
<circle cx="198.70" cy="576.50" r="1.35" fill="#111"/>
<circle cx="198.70" cy="617.50" r="1.35" fill="#111"/>
<line x1="221.20" y1="535.00" x2="221.20" y2="541.00" stroke="#222" stroke-width="0.8"/>
<rect x="218.80" y="535.80" width="4.80" height="4.40" fill="#35ab33"/>
<line x1="218.80" y1="538.00" x2="223.60" y2="538.00" stroke="#222" stroke-width="0.8"/>
<circle cx="221.20" cy="538.00" r="1.0" fill="#111"/>
<text x="227.20" y="540.20" font-size="6.5">Control</text>
<line x1="221.20" y1="545.30" x2="221.20" y2="551.30" stroke="#222" stroke-width="0.8"/>
<rect x="218.80" y="546.10" width="4.80" height="4.40" fill="#f8bf00"/>
<line x1="218.80" y1="548.30" x2="223.60" y2="548.30" stroke="#222" stroke-width="0.8"/>
<circle cx="221.20" cy="548.30" r="1.0" fill="#111"/>
<text x="227.20" y="550.50" font-size="6.5">Variant</text>
<text x="61" y="592.5" font-size="7" fill="#333" text-anchor="middle" transform="rotate(-90 61 592.5)" textLength="62" lengthAdjust="spacingAndGlyphs">% Freq. of parent (%)</text>
<text x="109.1" y="661.3" font-size="6.2" fill="#333" text-anchor="end" transform="rotate(-45 109.1 661.3)">ChemR23</text>
<text x="151.2" y="661.3" font-size="6.2" fill="#333" text-anchor="end" transform="rotate(-45 151.2 661.3)">GPR101</text>
<text x="193.1" y="661.3" font-size="6.2" fill="#333" text-anchor="end" transform="rotate(-45 193.1 661.3)">GPR18</text>
<line x1="286.00" y1="535.20" x2="286.00" y2="651.40" stroke="#333" stroke-width="1.5"/>
<line x1="285.30" y1="650.70" x2="423.00" y2="650.70" stroke="#333" stroke-width="1.5"/>
<line x1="283.00" y1="650.60" x2="286.00" y2="650.60" stroke="#222" stroke-width="1"/>
<text x="281.00" y="652.90" font-size="6.4" text-anchor="end" fill="#444">0</text>
<line x1="283.00" y1="627.74" x2="286.00" y2="627.74" stroke="#222" stroke-width="1"/>
<text x="281.00" y="630.04" font-size="6.4" text-anchor="end" fill="#444">1</text>
<line x1="283.00" y1="604.88" x2="286.00" y2="604.88" stroke="#222" stroke-width="1"/>
<text x="281.00" y="607.18" font-size="6.4" text-anchor="end" fill="#444">2</text>
<line x1="283.00" y1="582.02" x2="286.00" y2="582.02" stroke="#222" stroke-width="1"/>
<text x="281.00" y="584.32" font-size="6.4" text-anchor="end" fill="#444">3</text>
<line x1="283.00" y1="559.16" x2="286.00" y2="559.16" stroke="#222" stroke-width="1"/>
<text x="281.00" y="561.46" font-size="6.4" text-anchor="end" fill="#444">4</text>
<line x1="283.00" y1="536.30" x2="286.00" y2="536.30" stroke="#222" stroke-width="1"/>
<text x="281.00" y="538.60" font-size="6.4" text-anchor="end" fill="#444">5</text>
<line x1="313.00" y1="650.60" x2="313.00" y2="653.30" stroke="#222" stroke-width="1"/>
<line x1="358.00" y1="650.60" x2="358.00" y2="653.30" stroke="#222" stroke-width="1"/>
<line x1="401.30" y1="650.60" x2="401.30" y2="653.30" stroke="#222" stroke-width="1"/>
<rect x="293.70" y="593.50" width="17.30" height="57.10" fill="#35ab33"/>
<line x1="302.35" y1="594.50" x2="302.35" y2="590.50" stroke="#222" stroke-width="0.8"/>
<line x1="300.85" y1="590.50" x2="303.85" y2="590.50" stroke="#222" stroke-width="0.8"/>
<line x1="300.85" y1="594.50" x2="303.85" y2="594.50" stroke="#222" stroke-width="0.8"/>
<circle cx="302.35" cy="590.60" r="1.3" fill="#111"/>
<circle cx="302.35" cy="592.00" r="1.3" fill="#111"/>
<circle cx="302.35" cy="594.00" r="1.3" fill="#111"/>
<rect x="314.00" y="605.60" width="17.20" height="45.00" fill="#f8bf00"/>
<line x1="322.60" y1="611.30" x2="322.60" y2="599.80" stroke="#222" stroke-width="0.8"/>
<line x1="321.10" y1="599.80" x2="324.10" y2="599.80" stroke="#222" stroke-width="0.8"/>
<line x1="321.10" y1="611.30" x2="324.10" y2="611.30" stroke="#222" stroke-width="0.8"/>
<circle cx="322.60" cy="594.00" r="1.3" fill="#111"/>
<circle cx="322.60" cy="610.80" r="1.3" fill="#111"/>
<circle cx="322.60" cy="612.00" r="1.3" fill="#111"/>
<rect x="338.50" y="599.80" width="16.70" height="50.80" fill="#35ab33"/>
<line x1="346.85" y1="603.00" x2="346.85" y2="596.50" stroke="#222" stroke-width="0.8"/>
<line x1="345.35" y1="596.50" x2="348.35" y2="596.50" stroke="#222" stroke-width="0.8"/>
<line x1="345.35" y1="603.00" x2="348.35" y2="603.00" stroke="#222" stroke-width="0.8"/>
<circle cx="346.85" cy="593.50" r="1.3" fill="#111"/>
<circle cx="346.85" cy="600.00" r="1.3" fill="#111"/>
<circle cx="346.85" cy="603.00" r="1.3" fill="#111"/>
<rect x="358.00" y="599.80" width="16.50" height="50.80" fill="#f8bf00"/>
<line x1="366.25" y1="602.00" x2="366.25" y2="596.50" stroke="#222" stroke-width="0.8"/>
<line x1="364.75" y1="596.50" x2="367.75" y2="596.50" stroke="#222" stroke-width="0.8"/>
<line x1="364.75" y1="602.00" x2="367.75" y2="602.00" stroke="#222" stroke-width="0.8"/>
<circle cx="366.25" cy="595.00" r="1.3" fill="#111"/>
<circle cx="366.25" cy="600.00" r="1.3" fill="#111"/>
<circle cx="366.25" cy="602.00" r="1.3" fill="#111"/>
<rect x="382.30" y="591.40" width="17.30" height="59.20" fill="#35ab33"/>
<line x1="390.95" y1="600.00" x2="390.95" y2="583.00" stroke="#222" stroke-width="0.8"/>
<line x1="389.45" y1="583.00" x2="392.45" y2="583.00" stroke="#222" stroke-width="0.8"/>
<line x1="389.45" y1="600.00" x2="392.45" y2="600.00" stroke="#222" stroke-width="0.8"/>
<circle cx="390.95" cy="580.50" r="1.3" fill="#111"/>
<circle cx="390.95" cy="589.00" r="1.3" fill="#111"/>
<circle cx="390.95" cy="604.40" r="1.3" fill="#111"/>
<rect x="402.50" y="585.70" width="16.70" height="64.90" fill="#f8bf00"/>
<line x1="410.85" y1="588.00" x2="410.85" y2="583.50" stroke="#222" stroke-width="0.8"/>
<line x1="409.35" y1="583.50" x2="412.35" y2="583.50" stroke="#222" stroke-width="0.8"/>
<line x1="409.35" y1="588.00" x2="412.35" y2="588.00" stroke="#222" stroke-width="0.8"/>
<circle cx="410.85" cy="584.00" r="1.3" fill="#111"/>
<circle cx="410.85" cy="587.00" r="1.3" fill="#111"/>
<rect x="430.20" y="535.40" width="5.60" height="5.60" fill="#2f9a2f"/>
<text x="439.30" y="540.10" font-size="6.5">Control</text>
<rect x="430.20" y="545.30" width="5.60" height="5.60" fill="#f8bf00"/>
<text x="439.30" y="550.40" font-size="6.5">Variant</text>
<text x="271.8" y="593.2" font-size="7" fill="#333" text-anchor="middle" transform="rotate(-90 271.8 593.2)" textLength="62.3" lengthAdjust="spacingAndGlyphs">Expression (Log MFI)</text>
<text x="316.8" y="661.1" font-size="6.2" fill="#333" text-anchor="end" transform="rotate(-45 316.8 661.1)">ChemR23</text>
<text x="361.8" y="661.1" font-size="6.2" fill="#333" text-anchor="end" transform="rotate(-45 361.8 661.1)">GPR101</text>
<text x="405.1" y="661.1" font-size="6.2" fill="#333" text-anchor="end" transform="rotate(-45 405.1 661.1)">GPR18</text>
</g><rect x="0.5" y="0.5" width="519" height="688" fill="none" stroke="#5a5a5a" stroke-width="1"/></svg></body></html>
